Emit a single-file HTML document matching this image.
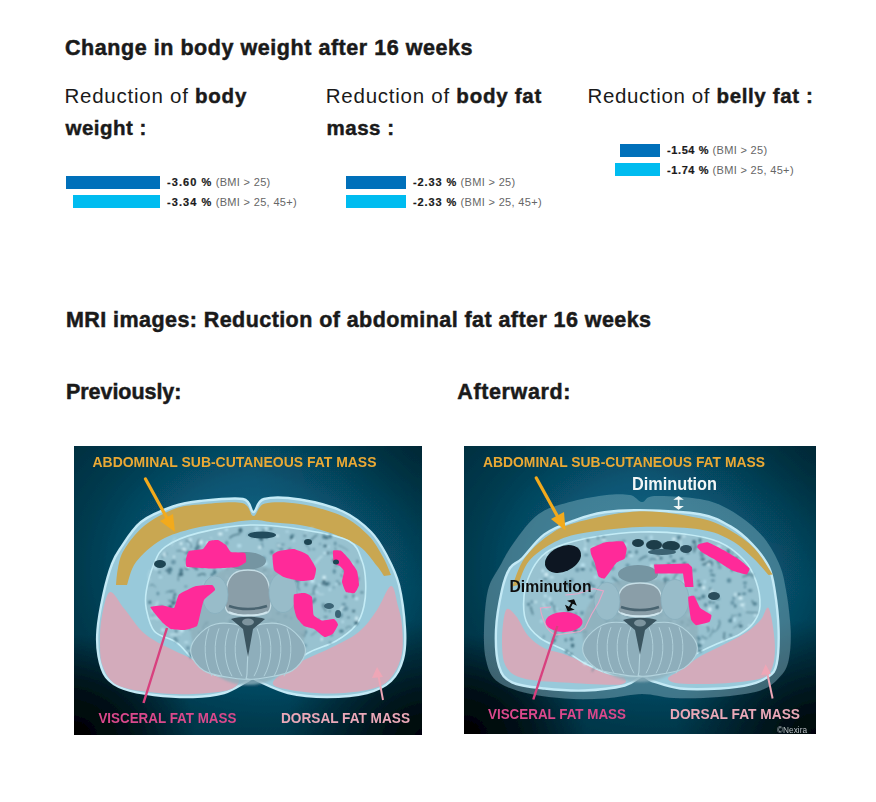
<!DOCTYPE html>
<html><head><meta charset="utf-8">
<style>
html,body{margin:0;padding:0;background:#fff;}
body{width:876px;height:802px;position:relative;overflow:hidden;font-family:"Liberation Sans",sans-serif;color:#1a1a1a;}
.t{position:absolute;white-space:nowrap;line-height:1;}
.h{font-weight:bold;font-size:21.5px;-webkit-text-stroke:0.5px #1a1a1a;}
.sub{font-size:20.5px;}
.sub b{font-weight:bold;-webkit-text-stroke:0.45px #1a1a1a;}
.bar{position:absolute;height:13px;}
.d{background:#0070ba;}
.l{background:#00bcf0;}
.v{position:absolute;font-size:11px;letter-spacing:0.33px;white-space:nowrap;line-height:1;color:#666;}
.v b{color:#1a1a1a;font-weight:bold;-webkit-text-stroke:0.2px #1a1a1a;letter-spacing:1.05px;}
.img{position:absolute;overflow:hidden;}
</style></head><body>
<div class="t h" id="h1" style="left:65px;top:37.7px;letter-spacing:0.55px;">Change in body weight after 16 weeks</div>

<div class="t sub" id="s1a" style="left:64.5px;top:85.6px;letter-spacing:0.75px;">Reduction of <b>body</b></div>
<div class="t sub" id="s1b" style="left:65.5px;top:117.6px;letter-spacing:0.5px;"><b>weight :</b></div>
<div class="t sub" id="s2a" style="left:325.8px;top:85.6px;letter-spacing:0.75px;">Reduction of <b>body fat</b></div>
<div class="t sub" id="s2b" style="left:326.5px;top:117.6px;letter-spacing:0.5px;"><b>mass :</b></div>
<div class="t sub" id="s3a" style="left:587.5px;top:85.6px;letter-spacing:0.63px;">Reduction of <b>belly fat :</b></div>

<div class="bar d" style="left:66px;top:175.5px;width:94px;"></div>
<div class="bar l" style="left:73px;top:195px;width:87px;"></div>
<div class="v" style="left:167px;top:177px;"><b>-3.60 %</b> (BMI &gt; 25)</div>
<div class="v" style="left:167px;top:197px;"><b>-3.34 %</b> (BMI &gt; 25, 45+)</div>

<div class="bar d" style="left:346px;top:175.5px;width:60px;"></div>
<div class="bar l" style="left:346px;top:195px;width:60px;"></div>
<div class="v" style="left:413px;top:177px;"><b style="letter-spacing:0.9px">-2.33 %</b> (BMI &gt; 25)</div>
<div class="v" style="left:413px;top:197px;"><b style="letter-spacing:0.9px">-2.33 %</b> (BMI &gt; 25, 45+)</div>

<div class="bar d" style="left:620px;top:143.5px;width:40px;"></div>
<div class="bar l" style="left:615px;top:163.3px;width:45px;"></div>
<div class="v" style="left:667px;top:145px;"><b style="letter-spacing:0.6px">-1.54 %</b> (BMI &gt; 25)</div>
<div class="v" style="left:667px;top:165px;"><b style="letter-spacing:0.6px">-1.74 %</b> (BMI &gt; 25, 45+)</div>

<div class="t h" id="h2" style="left:66px;top:309.8px;letter-spacing:0.43px;">MRI images: Reduction of abdominal fat after 16 weeks</div>
<div class="t h" id="p1" style="left:66px;top:381.7px;letter-spacing:-0.05px;">Previously:</div>
<div class="t h" id="p2" style="left:457.3px;top:381.7px;letter-spacing:0.62px;">Afterward:</div>

<div class="img" style="left:74px;top:446px;width:348px;height:289px;">
<svg width="348" height="289" viewBox="0 0 348 289">
<defs>
<radialGradient id="bg1" cx="0.55" cy="0.42" r="0.75">
<stop offset="0" stop-color="#0c6c8a"/>
<stop offset="0.4" stop-color="#085674"/>
<stop offset="0.7" stop-color="#043c50"/>
<stop offset="1" stop-color="#022a3a"/>
</radialGradient>
<radialGradient id="cbl1" cx="0" cy="1" r="0.35">
<stop offset="0" stop-color="#000" stop-opacity="1"/>
<stop offset="0.5" stop-color="#000" stop-opacity="0.6"/>
<stop offset="1" stop-color="#000" stop-opacity="0"/>
</radialGradient>
<radialGradient id="cbr1" cx="1" cy="1" r="0.4">
<stop offset="0" stop-color="#000" stop-opacity="0.9"/>
<stop offset="0.5" stop-color="#000" stop-opacity="0.45"/>
<stop offset="1" stop-color="#000" stop-opacity="0"/>
</radialGradient>
<radialGradient id="ctr1" cx="1" cy="0" r="0.5">
<stop offset="0" stop-color="#000" stop-opacity="0.25"/>
<stop offset="1" stop-color="#000" stop-opacity="0"/>
</radialGradient>
<filter id="b1a" x="-10%" y="-10%" width="120%" height="120%"><feGaussianBlur stdDeviation="0.7"/></filter>
<filter id="b1b" x="-10%" y="-10%" width="120%" height="120%"><feGaussianBlur stdDeviation="0.45"/></filter>
<filter id="b1c" x="-10%" y="-10%" width="120%" height="120%"><feGaussianBlur stdDeviation="0.9"/></filter>
<filter id="gb1" x="0" y="0" width="100%" height="100%"><feGaussianBlur stdDeviation="0.45" edgeMode="duplicate"/></filter>
</defs>
<g filter="url(#gb1)">
<rect width="348" height="289" fill="url(#bg1)"/>
<rect width="348" height="289" fill="url(#cbl1)"/>
<rect width="348" height="289" fill="url(#cbr1)"/>
<rect width="348" height="289" fill="url(#ctr1)"/>
<g filter="url(#b1a)">
<path d="M179.5,66.0 C183.0,66.0 182.2,55.1 190.0,53.0 C197.8,50.9 212.8,51.4 226.0,53.5 C239.2,55.6 257.2,60.1 269.0,65.5 C280.8,70.9 289.7,78.6 297.0,86.0 C304.3,93.4 308.3,101.2 313.0,110.0 C317.7,118.8 322.0,126.8 325.0,139.0 C328.0,151.2 330.3,170.7 331.0,183.0 C331.7,195.3 331.3,204.3 329.0,213.0 C326.7,221.7 323.0,229.3 317.0,235.0 C311.0,240.7 303.7,244.3 293.0,247.0 C282.3,249.7 266.2,251.0 253.0,251.0 C239.8,251.0 225.5,249.7 214.0,247.0 C202.5,244.3 189.8,237.5 184.0,235.0 C178.2,232.5 181.5,231.8 179.5,232.0 C177.5,232.2 176.9,233.5 172.0,236.0 C167.1,238.5 158.8,244.5 150.0,247.0 C141.2,249.5 130.7,250.7 119.0,251.0 C107.3,251.3 91.5,250.3 80.0,249.0 C68.5,247.7 58.0,246.0 50.0,243.0 C42.0,240.0 36.2,236.5 32.0,231.0 C27.8,225.5 25.9,217.8 24.5,210.0 C23.1,202.2 22.7,194.3 23.5,184.0 C24.3,173.7 27.1,159.0 29.5,148.0 C31.9,137.0 35.2,125.5 38.0,118.0 C40.8,110.5 41.2,110.0 46.0,103.0 C50.8,96.0 58.2,83.1 67.0,76.0 C75.8,68.9 89.2,64.0 99.0,60.5 C108.8,57.0 114.3,56.2 126.0,55.0 C137.7,53.8 160.1,51.2 169.0,53.0 C177.9,54.8 176.0,66.0 179.5,66.0 Z" fill="#98c9da" stroke="#c4eaf6" stroke-width="2.4"/>
<path d="M42.0,139.0 C42.3,136.2 42.7,127.8 44.0,122.0 C45.3,116.2 45.7,111.0 50.0,104.0 C54.3,97.0 61.7,86.8 70.0,80.0 C78.3,73.2 90.7,66.6 100.0,63.0 C109.3,59.4 114.7,59.5 126.0,58.5 C137.3,57.5 159.1,55.1 168.0,57.0 C176.9,58.9 175.7,69.9 179.5,70.0 C183.3,70.1 183.2,59.5 191.0,57.5 C198.8,55.5 213.2,55.9 226.0,58.0 C238.8,60.1 256.7,64.8 268.0,70.0 C279.3,75.2 287.2,82.2 294.0,89.0 C300.8,95.8 305.2,104.3 309.0,111.0 C312.8,117.7 315.7,126.0 317.0,129.0 L310.0,130.0 C308.8,128.3 307.2,125.0 303.0,120.0 C298.8,115.0 293.2,105.7 285.0,100.0 C276.8,94.3 263.3,89.5 253.5,86.0 C243.7,82.5 234.9,80.6 226.0,79.0 C217.1,77.4 207.8,77.3 200.0,76.5 C192.2,75.7 187.3,73.8 179.0,74.0 C170.7,74.2 160.0,76.1 150.0,77.5 C140.0,78.9 129.5,79.8 119.0,82.5 C108.5,85.2 96.5,88.4 87.0,94.0 C77.5,99.6 67.7,108.5 62.0,116.0 C56.3,123.5 54.5,135.2 53.0,139.0 Z" fill="#c9a751"/>
<path d="M36.0,146.0 C39.8,144.8 44.7,156.1 50.5,163.0 C56.3,169.9 62.5,180.8 70.7,187.7 C79.0,194.6 88.6,198.9 100.0,204.5 C111.4,210.1 128.3,216.9 139.0,221.5 C149.7,226.1 161.2,228.3 164.0,232.0 C166.8,235.7 163.5,240.8 156.0,243.5 C148.5,246.2 131.8,247.5 119.0,248.0 C106.2,248.5 92.2,248.0 79.5,246.5 C66.8,245.0 51.5,243.5 43.0,239.0 C34.5,234.5 31.3,226.8 28.5,219.5 C25.7,212.2 26.1,203.2 26.0,195.0 C25.9,186.8 26.3,178.2 28.0,170.0 C29.7,161.8 32.2,147.2 36.0,146.0 Z" fill="#d3abbb"/>
<path d="M317.0,140.0 C320.5,139.3 322.2,153.3 324.0,160.0 C325.8,166.7 327.4,171.7 328.0,180.0 C328.6,188.3 329.7,200.6 327.5,209.6 C325.3,218.6 320.8,228.3 315.0,234.0 C309.2,239.7 303.2,241.8 293.0,244.0 C282.8,246.2 266.7,247.6 253.5,247.5 C240.3,247.4 222.8,245.4 213.7,243.5 C204.6,241.6 197.3,240.3 199.0,236.0 C200.7,231.7 214.0,223.2 223.7,217.5 C233.4,211.8 247.2,206.9 257.4,201.6 C267.6,196.3 277.4,192.0 285.0,185.7 C292.6,179.4 297.7,171.5 303.0,163.9 C308.3,156.3 313.5,140.7 317.0,140.0 Z" fill="#d3abbb"/>
<path d="M72.4,144.4 C73.7,136.8 76.8,125.3 80.0,118.0 C83.2,110.7 84.2,105.8 91.6,100.6 C99.0,95.4 110.3,90.5 124.5,86.9 C138.7,83.3 158.8,79.5 176.5,79.0 C194.2,78.5 214.6,81.3 231.0,84.0 C247.4,86.7 265.5,89.8 275.0,95.0 C284.5,100.2 285.2,108.2 288.0,115.0 C290.8,121.8 291.3,128.5 291.6,136.0 C291.9,143.5 291.6,152.8 290.0,160.0 C288.4,167.2 286.7,173.2 282.0,179.0 C277.3,184.8 269.7,190.5 262.0,195.0 C254.3,199.5 244.3,201.8 236.0,206.0 C227.7,210.2 219.7,216.0 212.0,220.0 C204.3,224.0 196.4,228.0 190.0,230.0 C183.6,232.0 182.0,232.2 173.8,232.0 C165.6,231.8 150.1,232.2 141.0,229.0 C131.9,225.8 125.4,218.4 119.0,213.0 C112.6,207.6 109.0,201.1 102.6,196.5 C96.2,191.9 85.6,191.0 80.6,185.5 C75.6,180.0 73.8,170.4 72.4,163.6 C71.0,156.8 71.1,152.0 72.4,144.4 Z" fill="#98c2d0" stroke="#c4ecf6" stroke-width="1.6"/>
</g>
<g filter="url(#b1c)">
<ellipse cx="171.6" cy="164.6" rx="1.5" ry="2.2" fill="#6896a8"/>
<ellipse cx="114.0" cy="202.0" rx="1.8" ry="2.1" fill="#6896a8"/>
<ellipse cx="93.0" cy="125.4" rx="1.7" ry="2.2" fill="#4a7a8c"/>
<ellipse cx="211.5" cy="170.1" rx="2.3" ry="1.8" fill="#6896a8"/>
<ellipse cx="207.3" cy="103.1" rx="2.1" ry="0.9" fill="#4a7a8c"/>
<ellipse cx="203.8" cy="198.1" rx="1.5" ry="2.1" fill="#3d6a7c"/>
<ellipse cx="186.2" cy="177.0" rx="0.8" ry="0.9" fill="#6896a8"/>
<ellipse cx="215.9" cy="141.2" rx="1.9" ry="1.3" fill="#4a7a8c"/>
<ellipse cx="122.7" cy="123.2" rx="1.7" ry="1.0" fill="#4a7a8c"/>
<ellipse cx="96.0" cy="123.5" rx="2.3" ry="2.2" fill="#4a7a8c"/>
<ellipse cx="271.9" cy="150.9" rx="1.5" ry="1.7" fill="#6896a8"/>
<ellipse cx="115.9" cy="182.3" rx="0.9" ry="1.3" fill="#3d6a7c"/>
<ellipse cx="98.3" cy="116.7" rx="0.8" ry="1.5" fill="#4a7a8c"/>
<ellipse cx="179.1" cy="183.4" rx="1.5" ry="1.1" fill="#5a8a9c"/>
<ellipse cx="232.8" cy="99.0" rx="1.0" ry="1.5" fill="#6896a8"/>
<ellipse cx="119.1" cy="120.3" rx="2.4" ry="0.8" fill="#3d6a7c"/>
<ellipse cx="204.4" cy="167.3" rx="2.4" ry="1.1" fill="#4a7a8c"/>
<ellipse cx="129.0" cy="197.2" rx="2.1" ry="1.4" fill="#3d6a7c"/>
<ellipse cx="88.7" cy="110.9" rx="0.8" ry="1.4" fill="#5a8a9c"/>
<ellipse cx="208.8" cy="98.5" rx="2.1" ry="1.0" fill="#6896a8"/>
<ellipse cx="157.0" cy="175.0" rx="2.3" ry="2.1" fill="#3d6a7c"/>
<ellipse cx="127.1" cy="108.0" rx="1.9" ry="1.4" fill="#5a8a9c"/>
<ellipse cx="178.2" cy="91.0" rx="1.0" ry="0.9" fill="#4a7a8c"/>
<ellipse cx="283.4" cy="115.5" rx="1.2" ry="2.1" fill="#6896a8"/>
<ellipse cx="203.1" cy="123.9" rx="2.3" ry="2.4" fill="#5a8a9c"/>
<ellipse cx="100.1" cy="152.3" rx="1.2" ry="2.3" fill="#4a7a8c"/>
<ellipse cx="131.4" cy="147.2" rx="0.9" ry="1.3" fill="#4a7a8c"/>
<ellipse cx="188.8" cy="227.9" rx="1.4" ry="2.2" fill="#4a7a8c"/>
<ellipse cx="223.9" cy="168.4" rx="1.7" ry="2.3" fill="#5a8a9c"/>
<ellipse cx="176.5" cy="133.7" rx="2.3" ry="0.8" fill="#3d6a7c"/>
<ellipse cx="211.9" cy="152.8" rx="1.3" ry="2.4" fill="#3d6a7c"/>
<ellipse cx="88.9" cy="162.6" rx="2.2" ry="2.0" fill="#4a7a8c"/>
<ellipse cx="226.6" cy="200.4" rx="1.4" ry="1.9" fill="#3d6a7c"/>
<ellipse cx="163.8" cy="200.0" rx="1.7" ry="1.8" fill="#6896a8"/>
<ellipse cx="156.2" cy="168.1" rx="0.9" ry="1.8" fill="#4a7a8c"/>
<ellipse cx="232.0" cy="138.4" rx="1.5" ry="2.1" fill="#6896a8"/>
<ellipse cx="78.9" cy="171.0" rx="0.8" ry="2.3" fill="#6896a8"/>
<ellipse cx="217.1" cy="153.4" rx="1.4" ry="1.0" fill="#4a7a8c"/>
<ellipse cx="206.5" cy="158.3" rx="1.9" ry="1.5" fill="#3d6a7c"/>
<ellipse cx="267.9" cy="129.0" rx="1.1" ry="1.5" fill="#3d6a7c"/>
<ellipse cx="265.4" cy="137.8" rx="1.1" ry="1.0" fill="#3d6a7c"/>
<ellipse cx="149.3" cy="216.0" rx="1.9" ry="2.3" fill="#4a7a8c"/>
<ellipse cx="133.1" cy="104.9" rx="1.6" ry="2.3" fill="#6896a8"/>
<ellipse cx="254.5" cy="137.5" rx="1.9" ry="1.9" fill="#6896a8"/>
<ellipse cx="256.9" cy="174.6" rx="0.9" ry="0.9" fill="#3d6a7c"/>
<ellipse cx="227.7" cy="166.3" rx="1.8" ry="1.7" fill="#3d6a7c"/>
<ellipse cx="212.9" cy="141.0" rx="0.8" ry="2.1" fill="#5a8a9c"/>
<ellipse cx="124.4" cy="100.6" rx="2.4" ry="1.0" fill="#4a7a8c"/>
<ellipse cx="96.3" cy="160.9" rx="2.3" ry="1.9" fill="#3d6a7c"/>
<ellipse cx="116.1" cy="151.7" rx="1.9" ry="2.0" fill="#5a8a9c"/>
<ellipse cx="189.6" cy="84.5" rx="1.2" ry="1.4" fill="#5a8a9c"/>
<ellipse cx="225.3" cy="158.6" rx="1.4" ry="2.1" fill="#5a8a9c"/>
<ellipse cx="100.9" cy="148.4" rx="1.4" ry="1.7" fill="#4a7a8c"/>
<ellipse cx="279.4" cy="149.9" rx="1.0" ry="2.2" fill="#5a8a9c"/>
<ellipse cx="99.5" cy="116.1" rx="2.4" ry="2.4" fill="#6896a8"/>
<ellipse cx="190.1" cy="200.0" rx="1.2" ry="1.9" fill="#3d6a7c"/>
<ellipse cx="75.8" cy="156.2" rx="1.5" ry="1.7" fill="#4a7a8c"/>
<ellipse cx="240.8" cy="153.6" rx="1.1" ry="2.2" fill="#4a7a8c"/>
<ellipse cx="166.4" cy="84.4" rx="1.9" ry="2.3" fill="#3d6a7c"/>
<ellipse cx="269.8" cy="158.3" rx="2.3" ry="1.6" fill="#6896a8"/>
<ellipse cx="120.9" cy="159.6" rx="2.1" ry="1.7" fill="#3d6a7c"/>
<ellipse cx="108.4" cy="157.7" rx="1.3" ry="1.4" fill="#3d6a7c"/>
<ellipse cx="118.0" cy="209.2" rx="1.7" ry="1.1" fill="#3d6a7c"/>
<ellipse cx="189.9" cy="156.0" rx="0.8" ry="2.4" fill="#6896a8"/>
<ellipse cx="185.5" cy="140.3" rx="1.6" ry="1.9" fill="#4a7a8c"/>
<ellipse cx="86.8" cy="161.4" rx="2.3" ry="2.1" fill="#6896a8"/>
<ellipse cx="161.0" cy="116.7" rx="1.0" ry="1.5" fill="#6896a8"/>
<ellipse cx="176.9" cy="127.5" rx="1.5" ry="0.8" fill="#5a8a9c"/>
<ellipse cx="129.4" cy="186.4" rx="0.9" ry="1.0" fill="#4a7a8c"/>
<ellipse cx="231.0" cy="116.4" rx="1.0" ry="2.0" fill="#6896a8"/>
<ellipse cx="99.3" cy="157.1" rx="1.9" ry="1.9" fill="#3d6a7c"/>
<ellipse cx="211.2" cy="205.3" rx="1.7" ry="2.2" fill="#5a8a9c"/>
<ellipse cx="189.5" cy="112.4" rx="2.2" ry="1.8" fill="#5a8a9c"/>
<ellipse cx="260.2" cy="114.6" rx="2.2" ry="1.3" fill="#3d6a7c"/>
<ellipse cx="141.4" cy="220.2" rx="2.0" ry="1.1" fill="#5a8a9c"/>
<ellipse cx="157.4" cy="145.5" rx="1.7" ry="1.9" fill="#6896a8"/>
<ellipse cx="116.4" cy="175.1" rx="1.0" ry="1.7" fill="#4a7a8c"/>
<ellipse cx="150.8" cy="204.6" rx="1.0" ry="1.6" fill="#3d6a7c"/>
<ellipse cx="238.6" cy="155.9" rx="2.1" ry="1.6" fill="#5a8a9c"/>
<ellipse cx="206.8" cy="217.5" rx="1.0" ry="1.1" fill="#6896a8"/>
<ellipse cx="117.1" cy="207.6" rx="2.3" ry="1.0" fill="#3d6a7c"/>
<ellipse cx="173.7" cy="196.0" rx="1.4" ry="1.5" fill="#3d6a7c"/>
<ellipse cx="150.1" cy="111.1" rx="0.8" ry="1.9" fill="#3d6a7c"/>
<ellipse cx="257.5" cy="106.7" rx="1.4" ry="1.4" fill="#6896a8"/>
<ellipse cx="274.5" cy="171.5" rx="1.6" ry="0.8" fill="#4a7a8c"/>
<ellipse cx="226.9" cy="210.7" rx="1.7" ry="1.1" fill="#6896a8"/>
<ellipse cx="200.5" cy="131.2" rx="1.2" ry="1.0" fill="#3d6a7c"/>
<ellipse cx="235.3" cy="103.5" rx="1.0" ry="1.3" fill="#6896a8"/>
<ellipse cx="190.5" cy="135.6" rx="2.0" ry="1.4" fill="#6896a8"/>
<ellipse cx="230.8" cy="89.8" rx="1.3" ry="1.0" fill="#3d6a7c"/>
<ellipse cx="137.9" cy="112.1" rx="1.7" ry="1.7" fill="#6896a8"/>
<ellipse cx="213.2" cy="186.3" rx="2.4" ry="0.8" fill="#6896a8"/>
<ellipse cx="207.3" cy="192.0" rx="1.5" ry="1.6" fill="#3d6a7c"/>
<ellipse cx="239.3" cy="178.1" rx="1.0" ry="1.2" fill="#4a7a8c"/>
<ellipse cx="270.9" cy="163.2" rx="2.3" ry="1.7" fill="#6896a8"/>
<ellipse cx="249.8" cy="90.7" rx="1.4" ry="2.3" fill="#4a7a8c"/>
<ellipse cx="157.0" cy="227.4" rx="1.7" ry="1.8" fill="#6896a8"/>
<ellipse cx="166.6" cy="154.7" rx="1.6" ry="1.8" fill="#3d6a7c"/>
<ellipse cx="152.5" cy="122.7" rx="1.7" ry="1.3" fill="#3d6a7c"/>
<ellipse cx="229.5" cy="124.3" rx="2.0" ry="1.7" fill="#4a7a8c"/>
<ellipse cx="211.2" cy="141.5" rx="0.9" ry="1.3" fill="#6896a8"/>
<ellipse cx="159.6" cy="168.0" rx="0.9" ry="2.2" fill="#3d6a7c"/>
<ellipse cx="166.5" cy="152.1" rx="0.9" ry="1.0" fill="#5a8a9c"/>
<ellipse cx="126.1" cy="187.1" rx="1.8" ry="1.5" fill="#4a7a8c"/>
<ellipse cx="188.2" cy="98.0" rx="1.0" ry="1.5" fill="#6896a8"/>
<ellipse cx="204.2" cy="176.9" rx="1.4" ry="2.0" fill="#6896a8"/>
<ellipse cx="251.1" cy="100.0" rx="2.0" ry="1.2" fill="#3d6a7c"/>
<ellipse cx="244.3" cy="174.6" rx="1.2" ry="1.8" fill="#3d6a7c"/>
<ellipse cx="231.3" cy="186.0" rx="1.8" ry="2.0" fill="#5a8a9c"/>
<ellipse cx="114.0" cy="117.1" rx="2.2" ry="0.9" fill="#5a8a9c"/>
<ellipse cx="85.7" cy="120.5" rx="0.8" ry="0.9" fill="#6896a8"/>
<ellipse cx="121.2" cy="121.6" rx="2.3" ry="1.1" fill="#4a7a8c"/>
<ellipse cx="178.5" cy="133.2" rx="1.3" ry="2.0" fill="#3d6a7c"/>
<ellipse cx="256.2" cy="90.4" rx="1.5" ry="2.1" fill="#4a7a8c"/>
<ellipse cx="256.1" cy="196.6" rx="1.5" ry="1.2" fill="#6896a8"/>
<ellipse cx="249.9" cy="135.4" rx="1.3" ry="2.0" fill="#3d6a7c"/>
<ellipse cx="253.5" cy="107.1" rx="1.7" ry="1.5" fill="#3d6a7c"/>
<ellipse cx="143.5" cy="162.2" rx="1.7" ry="1.6" fill="#6896a8"/>
<ellipse cx="222.6" cy="124.7" rx="0.9" ry="1.1" fill="#4a7a8c"/>
<ellipse cx="217.5" cy="91.5" rx="1.6" ry="2.0" fill="#3d6a7c"/>
<ellipse cx="144.3" cy="213.9" rx="1.4" ry="2.0" fill="#5a8a9c"/>
<ellipse cx="152.7" cy="97.0" rx="1.7" ry="2.3" fill="#6896a8"/>
<ellipse cx="168.4" cy="201.9" rx="1.5" ry="1.2" fill="#3d6a7c"/>
<ellipse cx="185.5" cy="91.9" rx="0.8" ry="1.9" fill="#3d6a7c"/>
<ellipse cx="200.6" cy="200.8" rx="2.1" ry="1.7" fill="#3d6a7c"/>
<ellipse cx="255.7" cy="165.1" rx="0.9" ry="1.5" fill="#5a8a9c"/>
<ellipse cx="107.2" cy="124.3" rx="1.8" ry="2.1" fill="#4a7a8c"/>
<ellipse cx="86.4" cy="162.7" rx="1.3" ry="1.2" fill="#4a7a8c"/>
<ellipse cx="95.5" cy="127.0" rx="1.8" ry="1.0" fill="#4a7a8c"/>
<ellipse cx="235.9" cy="178.3" rx="1.9" ry="1.6" fill="#5a8a9c"/>
<ellipse cx="271.4" cy="130.7" rx="1.4" ry="1.3" fill="#6896a8"/>
<ellipse cx="180.6" cy="161.2" rx="1.9" ry="2.3" fill="#4a7a8c"/>
<ellipse cx="162.4" cy="205.4" rx="2.2" ry="2.1" fill="#3d6a7c"/>
<ellipse cx="282.3" cy="177.0" rx="1.9" ry="2.1" fill="#3d6a7c"/>
<ellipse cx="164.8" cy="143.3" rx="1.2" ry="1.1" fill="#5a8a9c"/>
<ellipse cx="211.6" cy="183.7" rx="1.1" ry="1.5" fill="#3d6a7c"/>
<ellipse cx="85.4" cy="126.2" rx="1.3" ry="1.0" fill="#4a7a8c"/>
<ellipse cx="177.9" cy="201.5" rx="1.0" ry="1.1" fill="#3d6a7c"/>
<ellipse cx="120.0" cy="115.0" rx="1.8" ry="1.2" fill="#6896a8"/>
<ellipse cx="112.9" cy="122.0" rx="2.3" ry="2.3" fill="#5a8a9c"/>
<ellipse cx="193.0" cy="209.6" rx="2.2" ry="2.3" fill="#6896a8"/>
<ellipse cx="147.4" cy="162.7" rx="1.6" ry="1.2" fill="#4a7a8c"/>
<ellipse cx="248.1" cy="137.9" rx="2.1" ry="0.9" fill="#3d6a7c"/>
<ellipse cx="171.0" cy="116.7" rx="1.8" ry="1.1" fill="#6896a8"/>
<ellipse cx="106.8" cy="128.2" rx="2.3" ry="2.1" fill="#3d6a7c"/>
<ellipse cx="101.1" cy="192.5" rx="1.6" ry="0.9" fill="#3d6a7c"/>
<ellipse cx="197.8" cy="106.3" rx="2.1" ry="2.2" fill="#5a8a9c"/>
<ellipse cx="252.6" cy="91.6" rx="1.8" ry="1.6" fill="#3d6a7c"/>
<ellipse cx="267.4" cy="185.1" rx="2.3" ry="1.7" fill="#4a7a8c"/>
<ellipse cx="260.3" cy="125.4" rx="1.5" ry="2.3" fill="#5a8a9c"/>
<ellipse cx="118.1" cy="162.1" rx="1.1" ry="2.1" fill="#6896a8"/>
<ellipse cx="140.7" cy="126.5" rx="1.7" ry="2.4" fill="#4a7a8c"/>
<ellipse cx="218.6" cy="89.3" rx="1.9" ry="1.0" fill="#4a7a8c"/>
<ellipse cx="158.8" cy="149.6" rx="1.8" ry="0.8" fill="#4a7a8c"/>
<ellipse cx="155.1" cy="187.6" rx="1.3" ry="1.0" fill="#5a8a9c"/>
<ellipse cx="257.5" cy="189.0" rx="1.3" ry="1.4" fill="#5a8a9c"/>
<ellipse cx="190.7" cy="124.6" rx="2.0" ry="1.7" fill="#3d6a7c"/>
<ellipse cx="91.5" cy="107.9" rx="2.0" ry="1.3" fill="#6896a8"/>
<ellipse cx="279.6" cy="165.1" rx="1.5" ry="1.4" fill="#3d6a7c"/>
<ellipse cx="94.7" cy="174.1" rx="1.9" ry="1.9" fill="#5a8a9c"/>
<ellipse cx="111.8" cy="140.5" rx="1.7" ry="0.9" fill="#6896a8"/>
<ellipse cx="122.1" cy="103.0" rx="1.5" ry="2.0" fill="#4a7a8c"/>
<ellipse cx="147.3" cy="205.0" rx="1.8" ry="2.0" fill="#5a8a9c"/>
<ellipse cx="252.4" cy="138.0" rx="2.3" ry="1.8" fill="#3d6a7c"/>
<ellipse cx="231.7" cy="172.8" rx="2.4" ry="2.1" fill="#3d6a7c"/>
<ellipse cx="217.1" cy="172.1" rx="1.2" ry="1.1" fill="#4a7a8c"/>
<ellipse cx="139.6" cy="146.5" rx="1.1" ry="1.3" fill="#6896a8"/>
<ellipse cx="136.7" cy="94.7" rx="1.2" ry="1.7" fill="#5a8a9c"/>
<ellipse cx="137.8" cy="114.8" rx="1.7" ry="1.1" fill="#5a8a9c"/>
<ellipse cx="196.8" cy="83.1" rx="2.0" ry="1.0" fill="#5a8a9c"/>
<ellipse cx="177.2" cy="142.9" rx="1.3" ry="2.3" fill="#3d6a7c"/>
<ellipse cx="151.6" cy="149.8" rx="1.5" ry="2.0" fill="#4a7a8c"/>
<ellipse cx="124.7" cy="166.1" rx="1.7" ry="1.2" fill="#4a7a8c"/>
<ellipse cx="251.6" cy="171.0" rx="2.3" ry="0.8" fill="#4a7a8c"/>
<ellipse cx="222.6" cy="134.6" rx="2.1" ry="1.1" fill="#3d6a7c"/>
<ellipse cx="192.5" cy="90.7" rx="1.4" ry="2.1" fill="#4a7a8c"/>
<ellipse cx="102.7" cy="194.7" rx="1.8" ry="1.8" fill="#6896a8"/>
<ellipse cx="239.7" cy="103.3" rx="1.5" ry="1.0" fill="#6896a8"/>
<ellipse cx="157.1" cy="166.1" rx="1.3" ry="1.0" fill="#5a8a9c"/>
<ellipse cx="230.6" cy="199.5" rx="2.3" ry="1.8" fill="#6896a8"/>
<ellipse cx="175.4" cy="141.9" rx="2.0" ry="1.6" fill="#6896a8"/>
<ellipse cx="259.8" cy="141.6" rx="1.0" ry="1.0" fill="#6896a8"/>
<ellipse cx="278.2" cy="129.5" rx="1.5" ry="0.8" fill="#6896a8"/>
<ellipse cx="271.3" cy="124.3" rx="2.0" ry="1.8" fill="#6896a8"/>
<ellipse cx="237.2" cy="125.6" rx="1.2" ry="2.2" fill="#4a7a8c"/>
<ellipse cx="125.5" cy="212.6" rx="1.6" ry="1.0" fill="#4a7a8c"/>
<ellipse cx="271.9" cy="162.4" rx="2.3" ry="2.2" fill="#6896a8"/>
<ellipse cx="263.4" cy="135.4" rx="1.7" ry="1.1" fill="#6896a8"/>
<ellipse cx="214.8" cy="143.5" rx="2.2" ry="1.0" fill="#4a7a8c"/>
<ellipse cx="246.1" cy="97.9" rx="0.8" ry="1.2" fill="#6896a8"/>
<ellipse cx="138.0" cy="128.7" rx="1.5" ry="1.5" fill="#4a7a8c"/>
<ellipse cx="188.7" cy="100.6" rx="0.9" ry="0.8" fill="#5a8a9c"/>
<ellipse cx="269.4" cy="126.1" rx="1.0" ry="2.0" fill="#6896a8"/>
<ellipse cx="116.8" cy="210.4" rx="1.1" ry="2.1" fill="#4a7a8c"/>
<ellipse cx="150.0" cy="151.3" rx="1.8" ry="1.9" fill="#5a8a9c"/>
<ellipse cx="195.1" cy="160.6" rx="1.1" ry="2.2" fill="#5a8a9c"/>
<ellipse cx="231.5" cy="126.9" rx="2.2" ry="1.9" fill="#3d6a7c"/>
<ellipse cx="102.0" cy="185.5" rx="1.5" ry="1.1" fill="#6896a8"/>
<ellipse cx="261.2" cy="97.5" rx="1.2" ry="2.0" fill="#5a8a9c"/>
<ellipse cx="182.3" cy="124.2" rx="1.4" ry="1.9" fill="#3d6a7c"/>
<ellipse cx="266.3" cy="169.3" rx="2.4" ry="2.2" fill="#5a8a9c"/>
<ellipse cx="112.0" cy="113.6" rx="1.8" ry="0.9" fill="#5a8a9c"/>
<ellipse cx="287.9" cy="146.4" rx="1.6" ry="0.9" fill="#4a7a8c"/>
<ellipse cx="203.9" cy="122.5" rx="1.5" ry="1.7" fill="#3d6a7c"/>
<ellipse cx="113.9" cy="106.4" rx="1.1" ry="2.2" fill="#4a7a8c"/>
<ellipse cx="173.6" cy="193.8" rx="0.8" ry="2.2" fill="#6896a8"/>
<ellipse cx="142.7" cy="153.0" rx="1.6" ry="1.6" fill="#4a7a8c"/>
<ellipse cx="257.7" cy="183.7" rx="1.8" ry="2.0" fill="#5a8a9c"/>
<ellipse cx="97.0" cy="145.6" rx="1.7" ry="1.2" fill="#6896a8"/>
<ellipse cx="229.4" cy="189.4" rx="1.6" ry="1.2" fill="#3d6a7c"/>
<ellipse cx="199.6" cy="155.3" rx="1.1" ry="2.4" fill="#4a7a8c"/>
<ellipse cx="83.9" cy="147.6" rx="1.3" ry="1.8" fill="#5a8a9c"/>
<ellipse cx="205.8" cy="202.3" rx="2.0" ry="2.2" fill="#6896a8"/>
<ellipse cx="111.5" cy="176.9" rx="1.8" ry="0.9" fill="#5a8a9c"/>
<ellipse cx="165.6" cy="185.4" rx="2.0" ry="1.6" fill="#3d6a7c"/>
<ellipse cx="214.9" cy="157.1" rx="1.2" ry="1.1" fill="#6896a8"/>
<ellipse cx="223.8" cy="206.1" rx="0.9" ry="1.5" fill="#6896a8"/>
<ellipse cx="152.3" cy="112.1" rx="1.0" ry="2.0" fill="#4a7a8c"/>
<ellipse cx="204.1" cy="99.6" rx="1.6" ry="2.4" fill="#6896a8"/>
<ellipse cx="187.6" cy="93.0" rx="1.6" ry="2.3" fill="#3d6a7c"/>
<ellipse cx="176.4" cy="179.6" rx="1.4" ry="1.4" fill="#d4f0f8"/>
<ellipse cx="213.4" cy="149.4" rx="1.2" ry="0.8" fill="#d4f0f8"/>
<ellipse cx="153.0" cy="131.0" rx="0.9" ry="2.1" fill="#c4e8f4"/>
<ellipse cx="88.8" cy="184.1" rx="1.9" ry="2.1" fill="#b8e0ee"/>
<ellipse cx="252.1" cy="180.3" rx="0.9" ry="2.4" fill="#c4e8f4"/>
<ellipse cx="165.2" cy="99.7" rx="2.2" ry="1.7" fill="#b8e0ee"/>
<ellipse cx="194.1" cy="156.6" rx="1.4" ry="1.5" fill="#c4e8f4"/>
<ellipse cx="203.0" cy="151.9" rx="1.7" ry="1.8" fill="#b8e0ee"/>
<ellipse cx="90.5" cy="108.4" rx="1.2" ry="2.3" fill="#d4f0f8"/>
<ellipse cx="262.3" cy="138.0" rx="1.0" ry="1.2" fill="#b8e0ee"/>
<ellipse cx="152.0" cy="157.2" rx="1.1" ry="1.4" fill="#d4f0f8"/>
<ellipse cx="205.5" cy="194.3" rx="1.1" ry="1.9" fill="#c4e8f4"/>
<ellipse cx="80.5" cy="121.3" rx="1.8" ry="2.0" fill="#b8e0ee"/>
<ellipse cx="185.1" cy="135.4" rx="1.3" ry="1.6" fill="#b8e0ee"/>
<ellipse cx="282.6" cy="152.6" rx="1.5" ry="1.7" fill="#c4e8f4"/>
<ellipse cx="112.3" cy="196.3" rx="2.3" ry="0.8" fill="#c4e8f4"/>
<ellipse cx="131.2" cy="196.9" rx="1.1" ry="2.1" fill="#b8e0ee"/>
<ellipse cx="182.3" cy="116.9" rx="2.4" ry="2.4" fill="#c4e8f4"/>
<ellipse cx="182.8" cy="82.7" rx="2.2" ry="1.9" fill="#b8e0ee"/>
<ellipse cx="133.7" cy="97.1" rx="1.6" ry="1.6" fill="#d4f0f8"/>
<ellipse cx="149.9" cy="183.7" rx="2.2" ry="1.1" fill="#b8e0ee"/>
<ellipse cx="136.3" cy="212.6" rx="1.3" ry="2.2" fill="#b8e0ee"/>
<ellipse cx="212.7" cy="147.1" rx="2.0" ry="1.6" fill="#c4e8f4"/>
<ellipse cx="78.4" cy="164.4" rx="1.5" ry="1.2" fill="#b8e0ee"/>
<ellipse cx="167.8" cy="228.9" rx="1.7" ry="2.0" fill="#d4f0f8"/>
<ellipse cx="277.7" cy="118.5" rx="1.5" ry="1.7" fill="#c4e8f4"/>
<ellipse cx="199.6" cy="132.2" rx="1.8" ry="1.4" fill="#b8e0ee"/>
<ellipse cx="107.7" cy="184.4" rx="2.2" ry="2.1" fill="#c4e8f4"/>
<ellipse cx="189.7" cy="199.7" rx="2.1" ry="1.9" fill="#b8e0ee"/>
<ellipse cx="113.8" cy="120.4" rx="1.9" ry="1.6" fill="#d4f0f8"/>
<ellipse cx="206.4" cy="111.4" rx="1.9" ry="1.4" fill="#d4f0f8"/>
<ellipse cx="126.3" cy="141.3" rx="0.9" ry="1.3" fill="#b8e0ee"/>
<ellipse cx="222.9" cy="189.3" rx="1.9" ry="2.0" fill="#b8e0ee"/>
<ellipse cx="152.5" cy="83.6" rx="1.8" ry="1.6" fill="#b8e0ee"/>
<ellipse cx="84.8" cy="169.9" rx="1.2" ry="1.3" fill="#b8e0ee"/>
<ellipse cx="151.4" cy="121.8" rx="1.9" ry="1.3" fill="#c4e8f4"/>
<ellipse cx="185.6" cy="101.4" rx="1.3" ry="1.6" fill="#d4f0f8"/>
<ellipse cx="157.6" cy="155.6" rx="1.2" ry="1.5" fill="#d4f0f8"/>
<ellipse cx="122.3" cy="161.3" rx="1.6" ry="1.5" fill="#b8e0ee"/>
<ellipse cx="197.4" cy="126.7" rx="0.8" ry="2.0" fill="#d4f0f8"/>
<ellipse cx="268.7" cy="175.8" rx="1.0" ry="1.2" fill="#c4e8f4"/>
<ellipse cx="191.7" cy="117.5" rx="1.5" ry="1.4" fill="#c4e8f4"/>
<ellipse cx="161.9" cy="175.0" rx="1.4" ry="2.2" fill="#b8e0ee"/>
<ellipse cx="269.1" cy="128.1" rx="1.2" ry="0.9" fill="#c4e8f4"/>
<ellipse cx="216.7" cy="200.8" rx="1.5" ry="1.8" fill="#b8e0ee"/>
<ellipse cx="130.1" cy="141.3" rx="1.6" ry="2.3" fill="#b8e0ee"/>
<ellipse cx="251.0" cy="107.0" rx="2.1" ry="1.0" fill="#c4e8f4"/>
<ellipse cx="131.1" cy="214.8" rx="2.2" ry="2.1" fill="#d4f0f8"/>
<ellipse cx="151.0" cy="191.4" rx="2.0" ry="2.2" fill="#b8e0ee"/>
<ellipse cx="140.6" cy="212.5" rx="2.2" ry="0.8" fill="#d4f0f8"/>
<ellipse cx="109.9" cy="104.0" rx="2.1" ry="2.3" fill="#d4f0f8"/>
<ellipse cx="192.1" cy="82.3" rx="1.4" ry="1.6" fill="#c4e8f4"/>
<ellipse cx="116.3" cy="94.0" rx="1.8" ry="2.1" fill="#c4e8f4"/>
<ellipse cx="183.2" cy="176.2" rx="1.4" ry="2.1" fill="#b8e0ee"/>
<ellipse cx="238.4" cy="135.1" rx="2.3" ry="1.9" fill="#c4e8f4"/>
<ellipse cx="166.0" cy="141.1" rx="1.4" ry="0.9" fill="#d4f0f8"/>
<ellipse cx="273.4" cy="132.3" rx="1.0" ry="0.9" fill="#c4e8f4"/>
<ellipse cx="127.1" cy="96.3" rx="1.7" ry="2.3" fill="#d4f0f8"/>
<ellipse cx="231.5" cy="178.5" rx="1.7" ry="1.7" fill="#c4e8f4"/>
<ellipse cx="248.5" cy="175.3" rx="2.0" ry="1.5" fill="#b8e0ee"/>
<ellipse cx="191.4" cy="127.3" rx="1.4" ry="1.8" fill="#c4e8f4"/>
<ellipse cx="146.3" cy="88.0" rx="2.3" ry="1.4" fill="#d4f0f8"/>
<ellipse cx="137.8" cy="220.3" rx="1.0" ry="1.2" fill="#d4f0f8"/>
<ellipse cx="115.7" cy="97.9" rx="2.0" ry="2.1" fill="#b8e0ee"/>
<ellipse cx="238.4" cy="131.0" rx="2.0" ry="2.2" fill="#b8e0ee"/>
<ellipse cx="250.2" cy="131.4" rx="1.8" ry="1.8" fill="#d4f0f8"/>
<ellipse cx="86.5" cy="131.2" rx="1.8" ry="1.0" fill="#b8e0ee"/>
<ellipse cx="191.0" cy="224.7" rx="1.2" ry="1.3" fill="#d4f0f8"/>
<ellipse cx="201.0" cy="154.3" rx="1.7" ry="1.8" fill="#b8e0ee"/>
<ellipse cx="198.9" cy="136.9" rx="1.4" ry="2.3" fill="#b8e0ee"/>
<ellipse cx="203.5" cy="89.9" rx="1.4" ry="1.1" fill="#d4f0f8"/>
<ellipse cx="143.1" cy="135.2" rx="2.2" ry="1.0" fill="#b8e0ee"/>
<ellipse cx="213.2" cy="85.6" rx="1.8" ry="0.9" fill="#b8e0ee"/>
<ellipse cx="219.6" cy="94.5" rx="1.1" ry="1.6" fill="#b8e0ee"/>
<ellipse cx="92.3" cy="126.6" rx="1.2" ry="0.9" fill="#b8e0ee"/>
<ellipse cx="223.2" cy="107.7" rx="1.8" ry="1.8" fill="#b8e0ee"/>
<ellipse cx="201.7" cy="152.3" rx="1.5" ry="2.3" fill="#b8e0ee"/>
<ellipse cx="158.3" cy="150.2" rx="1.2" ry="2.2" fill="#b8e0ee"/>
<ellipse cx="115.5" cy="169.3" rx="1.6" ry="1.9" fill="#d4f0f8"/>
<ellipse cx="229.3" cy="208.9" rx="1.4" ry="1.3" fill="#b8e0ee"/>
<ellipse cx="245.5" cy="138.7" rx="2.2" ry="1.0" fill="#b8e0ee"/>
<ellipse cx="255.8" cy="143.4" rx="1.1" ry="1.5" fill="#b8e0ee"/>
<ellipse cx="254.6" cy="100.8" rx="1.0" ry="1.3" fill="#b8e0ee"/>
<ellipse cx="107.1" cy="97.6" rx="1.4" ry="1.6" fill="#d4f0f8"/>
<ellipse cx="204.2" cy="221.7" rx="2.1" ry="1.4" fill="#c4e8f4"/>
<ellipse cx="188.3" cy="118.2" rx="2.1" ry="2.1" fill="#d4f0f8"/>
<ellipse cx="100.0" cy="110.7" rx="1.0" ry="1.2" fill="#d4f0f8"/>
<ellipse cx="79.9" cy="162.6" rx="1.0" ry="1.8" fill="#b8e0ee"/>
<ellipse cx="256.4" cy="177.5" rx="1.3" ry="2.4" fill="#b8e0ee"/>
<ellipse cx="156.6" cy="207.8" rx="0.9" ry="2.3" fill="#c4e8f4"/>
<ellipse cx="186.8" cy="164.9" rx="1.4" ry="0.8" fill="#d4f0f8"/>
<ellipse cx="183.0" cy="142.5" rx="0.8" ry="2.1" fill="#c4e8f4"/>
<ellipse cx="188.1" cy="174.2" rx="1.2" ry="1.5" fill="#b8e0ee"/>
<ellipse cx="247.7" cy="193.2" rx="0.9" ry="1.9" fill="#d4f0f8"/>
<ellipse cx="82.3" cy="122.8" rx="1.9" ry="1.4" fill="#b8e0ee"/>
<ellipse cx="215.8" cy="205.2" rx="2.4" ry="1.0" fill="#c4e8f4"/>
<ellipse cx="204.5" cy="99.5" rx="1.7" ry="1.1" fill="#d4f0f8"/>
<ellipse cx="286.8" cy="113.2" rx="0.8" ry="1.0" fill="#b8e0ee"/>
<ellipse cx="172.8" cy="148.7" rx="2.0" ry="2.1" fill="#b8e0ee"/>
<ellipse cx="237.0" cy="122.7" rx="1.1" ry="2.3" fill="#b8e0ee"/>
<ellipse cx="276.6" cy="133.3" rx="1.0" ry="1.6" fill="#b8e0ee"/>
<ellipse cx="163.3" cy="128.8" rx="1.3" ry="2.2" fill="#d4f0f8"/>
<ellipse cx="208.7" cy="163.9" rx="1.3" ry="2.2" fill="#c4e8f4"/>
<ellipse cx="141.5" cy="222.4" rx="2.3" ry="1.2" fill="#c4e8f4"/>
<ellipse cx="191.9" cy="198.6" rx="2.2" ry="0.9" fill="#c4e8f4"/>
<ellipse cx="282.5" cy="172.3" rx="1.5" ry="2.1" fill="#d4f0f8"/>
<ellipse cx="243.2" cy="145.9" rx="1.3" ry="0.9" fill="#b8e0ee"/>
<ellipse cx="217.1" cy="152.4" rx="2.2" ry="1.8" fill="#c4e8f4"/>
<ellipse cx="253.5" cy="181.3" rx="2.2" ry="2.3" fill="#b8e0ee"/>
<ellipse cx="185.1" cy="182.0" rx="1.7" ry="1.4" fill="#b8e0ee"/>
<path d="M129.2,183.8 Q128.9,177.2 134.9,175.9" stroke="#4d7a8a" stroke-width="1.5" fill="none"/>
<path d="M212.9,107.7 Q216.9,100.7 216.0,103.1" stroke="#4d7a8a" stroke-width="1.5" fill="none"/>
<path d="M132.9,101.4 Q138.0,99.5 136.9,91.1" stroke="#c0e2ec" stroke-width="1.1" fill="none"/>
<path d="M150.4,114.8 Q149.8,114.8 139.6,111.3" stroke="#5d8a9a" stroke-width="1.3" fill="none"/>
<path d="M216.0,131.9 Q210.6,128.0 209.9,125.1" stroke="#c0e2ec" stroke-width="1.4" fill="none"/>
<path d="M102.0,182.6 Q100.8,186.4 105.6,189.8" stroke="#5d8a9a" stroke-width="1.1" fill="none"/>
<path d="M129.8,121.9 Q125.3,119.9 119.8,116.6" stroke="#4d7a8a" stroke-width="1.4" fill="none"/>
<path d="M101.1,144.8 Q91.6,145.2 92.0,147.0" stroke="#4d7a8a" stroke-width="1.0" fill="none"/>
<path d="M181.6,185.8 Q183.8,192.2 181.4,193.9" stroke="#5d8a9a" stroke-width="1.5" fill="none"/>
<path d="M248.5,110.1 Q246.7,110.3 240.7,117.8" stroke="#c0e2ec" stroke-width="1.3" fill="none"/>
<path d="M230.8,111.4 Q227.7,107.7 222.7,106.9" stroke="#c0e2ec" stroke-width="1.3" fill="none"/>
<path d="M112.3,108.5 Q111.4,103.4 102.4,104.9" stroke="#5d8a9a" stroke-width="1.3" fill="none"/>
<path d="M194.3,162.1 Q190.3,159.0 189.4,164.1" stroke="#4d7a8a" stroke-width="0.9" fill="none"/>
<path d="M140.5,141.4 Q137.3,143.6 130.1,136.9" stroke="#c0e2ec" stroke-width="1.1" fill="none"/>
<path d="M145.8,155.0 Q139.7,156.1 134.1,153.7" stroke="#5d8a9a" stroke-width="1.4" fill="none"/>
<path d="M154.9,188.3 Q156.0,193.9 158.6,193.1" stroke="#4d7a8a" stroke-width="1.0" fill="none"/>
<path d="M201.3,133.4 Q197.6,135.2 199.7,139.9" stroke="#4d7a8a" stroke-width="1.1" fill="none"/>
<path d="M173.4,89.5 Q177.3,86.3 178.1,87.0" stroke="#5d8a9a" stroke-width="1.2" fill="none"/>
<path d="M194.0,129.9 Q187.1,135.0 187.5,132.7" stroke="#4d7a8a" stroke-width="1.1" fill="none"/>
<path d="M106.7,126.1 Q104.0,126.6 104.3,135.0" stroke="#5d8a9a" stroke-width="1.2" fill="none"/>
<path d="M82.0,160.9 Q81.2,162.0 83.9,155.3" stroke="#c0e2ec" stroke-width="1.4" fill="none"/>
<path d="M272.4,183.3 Q270.7,179.8 277.5,180.9" stroke="#4d7a8a" stroke-width="0.8" fill="none"/>
<path d="M124.5,205.7 Q127.9,199.4 126.0,199.2" stroke="#5d8a9a" stroke-width="1.3" fill="none"/>
<path d="M97.7,100.0 Q99.7,93.9 101.0,91.9" stroke="#c0e2ec" stroke-width="1.0" fill="none"/>
<path d="M95.9,188.6 Q104.5,187.8 107.0,188.5" stroke="#c0e2ec" stroke-width="1.6" fill="none"/>
<path d="M220.2,186.2 Q221.7,186.7 231.3,189.1" stroke="#5d8a9a" stroke-width="1.2" fill="none"/>
<path d="M131.1,199.1 Q130.5,196.8 139.2,199.3" stroke="#5d8a9a" stroke-width="1.0" fill="none"/>
<path d="M281.2,136.4 Q285.7,132.9 284.3,131.1" stroke="#4d7a8a" stroke-width="1.2" fill="none"/>
<path d="M270.1,161.1 Q267.6,160.3 265.6,165.6" stroke="#c0e2ec" stroke-width="1.5" fill="none"/>
<path d="M178.0,155.6 Q177.3,151.5 183.9,155.8" stroke="#5d8a9a" stroke-width="1.3" fill="none"/>
<path d="M231.2,87.5 Q237.4,80.1 239.7,82.2" stroke="#c0e2ec" stroke-width="0.8" fill="none"/>
<path d="M261.4,100.9 Q260.0,105.4 267.6,109.9" stroke="#5d8a9a" stroke-width="1.0" fill="none"/>
<path d="M141.7,156.1 Q149.3,154.8 148.7,150.5" stroke="#c0e2ec" stroke-width="0.8" fill="none"/>
<path d="M226.0,144.4 Q221.6,142.8 225.3,133.0" stroke="#5d8a9a" stroke-width="1.5" fill="none"/>
<path d="M254.6,183.2 Q253.0,176.5 249.6,174.5" stroke="#4d7a8a" stroke-width="0.9" fill="none"/>
<path d="M111.5,95.0 Q116.6,93.7 117.1,101.8" stroke="#5d8a9a" stroke-width="1.5" fill="none"/>
<path d="M155.9,203.7 Q151.3,206.1 148.3,199.9" stroke="#5d8a9a" stroke-width="1.2" fill="none"/>
<path d="M133.9,137.1 Q133.0,140.7 135.5,142.7" stroke="#5d8a9a" stroke-width="1.5" fill="none"/>
<path d="M138.2,221.0 Q136.5,218.3 137.0,216.0" stroke="#c0e2ec" stroke-width="0.8" fill="none"/>
<path d="M256.6,160.2 Q248.0,160.0 249.1,157.2" stroke="#4d7a8a" stroke-width="1.4" fill="none"/>
<path d="M194.0,175.1 Q194.2,171.7 201.1,174.7" stroke="#4d7a8a" stroke-width="1.0" fill="none"/>
<path d="M196.3,214.2 Q197.1,212.5 193.9,204.9" stroke="#c0e2ec" stroke-width="0.9" fill="none"/>
<path d="M84.2,174.0 Q82.8,170.2 75.7,172.9" stroke="#c0e2ec" stroke-width="1.4" fill="none"/>
<path d="M139.2,124.5 Q142.6,120.5 141.6,118.1" stroke="#5d8a9a" stroke-width="1.0" fill="none"/>
<path d="M229.3,93.8 Q235.4,102.5 234.4,101.9" stroke="#5d8a9a" stroke-width="0.9" fill="none"/>
<path d="M94.4,154.4 Q102.7,156.2 103.2,157.0" stroke="#4d7a8a" stroke-width="1.4" fill="none"/>
<path d="M123.5,129.7 Q131.2,125.7 131.1,129.8" stroke="#4d7a8a" stroke-width="1.4" fill="none"/>
<path d="M260.0,120.1 Q264.3,120.2 264.4,117.7" stroke="#4d7a8a" stroke-width="1.0" fill="none"/>
<path d="M76.6,134.4 Q72.6,131.7 76.4,124.2" stroke="#c0e2ec" stroke-width="0.9" fill="none"/>
<path d="M166.1,87.7 Q157.0,89.2 155.4,92.5" stroke="#4d7a8a" stroke-width="1.5" fill="none"/>
<path d="M208.2,136.6 Q207.2,133.4 209.4,131.6" stroke="#5d8a9a" stroke-width="0.9" fill="none"/>
<path d="M125.5,104.8 Q121.1,98.5 125.6,93.1" stroke="#4d7a8a" stroke-width="1.2" fill="none"/>
<path d="M236.9,189.5 Q241.4,186.9 244.8,183.1" stroke="#4d7a8a" stroke-width="0.8" fill="none"/>
<path d="M132.2,144.0 Q138.2,147.8 136.0,153.7" stroke="#c0e2ec" stroke-width="0.9" fill="none"/>
<path d="M241.4,145.0 Q244.7,149.6 249.8,148.1" stroke="#c0e2ec" stroke-width="1.0" fill="none"/>
<path d="M265.1,110.3 Q268.0,112.4 270.3,110.9" stroke="#5d8a9a" stroke-width="1.1" fill="none"/>
<path d="M264.1,99.2 Q273.8,103.1 274.2,105.2" stroke="#5d8a9a" stroke-width="0.9" fill="none"/>
<path d="M189.6,184.5 Q188.9,178.8 188.4,179.6" stroke="#c0e2ec" stroke-width="0.9" fill="none"/>
<path d="M164.5,222.1 Q154.4,226.6 153.6,224.5" stroke="#4d7a8a" stroke-width="1.0" fill="none"/>
<path d="M248.1,159.5 Q253.1,166.7 251.5,164.5" stroke="#4d7a8a" stroke-width="1.3" fill="none"/>
<path d="M137.0,185.4 Q134.0,181.4 131.1,175.2" stroke="#4d7a8a" stroke-width="0.9" fill="none"/>
<path d="M243.5,88.9 Q242.0,88.8 236.5,94.8" stroke="#4d7a8a" stroke-width="1.4" fill="none"/>
<path d="M156.1,110.4 Q153.4,110.5 144.7,114.1" stroke="#5d8a9a" stroke-width="1.3" fill="none"/>
<path d="M211.9,105.8 Q212.3,111.7 212.2,111.8" stroke="#c0e2ec" stroke-width="1.4" fill="none"/>
<path d="M225.3,156.1 Q225.9,151.5 228.4,148.7" stroke="#5d8a9a" stroke-width="1.0" fill="none"/>
<path d="M239.9,149.0 Q238.5,139.5 243.4,139.6" stroke="#5d8a9a" stroke-width="1.6" fill="none"/>
<path d="M195.2,171.7 Q197.6,167.8 192.0,160.7" stroke="#c0e2ec" stroke-width="0.9" fill="none"/>
<path d="M76.3,140.2 Q77.4,136.1 81.9,141.4" stroke="#4d7a8a" stroke-width="0.9" fill="none"/>
<path d="M152.4,173.7 Q153.0,171.6 160.1,168.0" stroke="#c0e2ec" stroke-width="1.2" fill="none"/>
<path d="M229.0,150.4 Q232.3,151.4 238.7,147.8" stroke="#5d8a9a" stroke-width="0.9" fill="none"/>
</g>
<ellipse cx="174" cy="178.5" rx="58" ry="60.5" fill="#8fb0bc" filter="url(#b1c)" opacity="0.8"/>
<g filter="url(#b1b)">
<path d="M122.0,191.8 C126.2,186.7 134.3,179.8 142.0,178.0 C149.7,176.2 162.8,177.5 168.0,180.8 C173.2,184.0 171.8,189.5 173.0,197.2 C174.2,205.0 174.8,221.5 175.0,227.5 C175.2,233.5 177.5,232.4 174.0,233.0 C170.5,233.6 161.3,232.7 154.0,231.3 C146.7,230.0 136.2,228.6 130.0,224.8 C123.8,220.9 118.3,213.8 117.0,208.2 C115.7,202.8 117.8,196.8 122.0,191.8 Z" fill="#8eaebb" stroke="#b4d4de" stroke-width="1.1"/>
<path d="M226.0,191.8 C221.8,186.7 213.7,179.8 206.0,178.0 C198.3,176.2 185.2,177.5 180.0,180.8 C174.8,184.0 176.2,189.5 175.0,197.2 C173.8,205.0 173.2,221.5 173.0,227.5 C172.8,233.5 170.5,232.4 174.0,233.0 C177.5,233.6 186.7,232.7 194.0,231.3 C201.3,230.0 211.8,228.6 218.0,224.8 C224.2,220.9 229.7,213.8 231.0,208.2 C232.3,202.8 230.2,196.8 226.0,191.8 Z" fill="#8eaebb" stroke="#b4d4de" stroke-width="1.1"/>
<path d="M165,182.4 C159,197.2 160,216.5 168,230.2" fill="none" stroke="#b0d0da" stroke-width="1"/>
<path d="M183,182.4 C189,197.2 188,216.5 180,230.2" fill="none" stroke="#b0d0da" stroke-width="1"/>
<path d="M155,182.4 C149,197.2 150,216.5 158,230.2" fill="none" stroke="#b0d0da" stroke-width="1"/>
<path d="M193,182.4 C199,197.2 198,216.5 190,230.2" fill="none" stroke="#b0d0da" stroke-width="1"/>
<path d="M145,182.4 C139,197.2 140,216.5 148,230.2" fill="none" stroke="#b0d0da" stroke-width="1"/>
<path d="M203,182.4 C209,197.2 208,216.5 200,230.2" fill="none" stroke="#b0d0da" stroke-width="1"/>
<path d="M135,182.4 C129,197.2 130,216.5 138,230.2" fill="none" stroke="#b0d0da" stroke-width="1"/>
<path d="M213,182.4 C219,197.2 218,216.5 210,230.2" fill="none" stroke="#b0d0da" stroke-width="1"/>
<ellipse cx="172" cy="115" rx="20" ry="9" fill="#7595a2"/>
<path d="M153.0,165.0 C149.5,160.1 151.8,146.0 153.0,139.8 C154.2,133.5 156.5,130.2 160.0,127.6 C163.5,125.0 169.3,124.0 174.0,124.0 C178.7,124.0 184.5,125.0 188.0,127.6 C191.5,130.2 193.8,133.5 195.0,139.8 C196.2,146.0 198.5,160.1 195.0,165.0 C191.5,169.9 181.0,169.0 174.0,169.0 C167.0,169.0 156.5,169.9 153.0,165.0 Z" fill="#8a9ea8" stroke="#c6dee6" stroke-width="1.3"/>
<path d="M155,160 C166,164 182,164 193,160" fill="none" stroke="#4a6470" stroke-width="2.5"/>
<path d="M155,166 C166,171 182,171 193,166" fill="none" stroke="#d0e6ee" stroke-width="1.8"/>
<path d="M157,173 C166,170 182,170 191,173 L179,183 L174,211.0 L169,183 Z" fill="#3a5460"/>
<ellipse cx="174" cy="176" rx="6" ry="3.5" fill="#7d949e"/>
<ellipse cx="141" cy="148.8" rx="13" ry="19" fill="#98bcc9" stroke="#88aebe" stroke-width="0.8"/>
<ellipse cx="209" cy="146.5" rx="14" ry="20" fill="#98bcc9" stroke="#88aebe" stroke-width="0.8"/>
</g>
<g fill="#ff2b99" filter="url(#b1b)">
<path d="M112.0,113.0 C112.1,111.9 113.9,105.7 115.0,105.0 C116.1,104.3 127.7,103.7 129.0,103.0 C130.3,102.3 134.0,95.6 135.0,95.0 C136.0,94.4 142.9,93.7 144.0,94.0 C145.1,94.3 151.1,98.2 152.0,99.0 C152.9,99.8 155.7,105.5 157.0,106.0 C158.3,106.5 170.0,106.3 171.0,107.0 C172.0,107.7 172.5,115.1 172.0,116.0 C171.5,116.9 165.3,120.6 163.0,121.0 C160.7,121.4 141.3,122.5 138.0,122.5 C134.7,122.5 114.7,121.6 113.0,121.0 C111.3,120.4 111.9,114.1 112.0,113.0 Z"/>
<path d="M198.5,109.0 C198.8,107.7 203.6,105.4 205.0,105.0 C206.4,104.6 218.1,102.7 220.0,103.0 C221.9,103.3 232.5,107.7 234.0,109.0 C235.5,110.3 241.6,120.9 242.0,122.5 C242.4,124.1 240.6,132.7 239.5,133.5 C238.4,134.3 228.0,135.2 226.0,135.0 C224.0,134.8 211.2,131.7 209.5,131.0 C207.8,130.3 200.7,125.5 200.0,124.0 C199.3,122.5 198.2,110.3 198.5,109.0 Z"/>
<path d="M259.0,104.7 C259.5,103.9 265.9,104.1 267.0,104.7 C268.1,105.3 273.9,111.6 275.0,113.0 C276.1,114.4 282.3,123.3 283.0,125.0 C283.7,126.7 285.2,137.5 285.0,139.0 C284.8,140.5 281.5,146.5 280.6,147.0 C279.7,147.5 272.8,146.7 272.0,146.0 C271.2,145.3 268.1,137.4 268.0,136.0 C267.9,134.6 270.2,126.1 270.0,125.0 C269.8,123.9 266.3,120.5 265.6,120.0 C264.9,119.5 260.4,118.0 260.0,117.0 C259.6,116.0 258.5,105.5 259.0,104.7 Z"/>
<path d="M76.5,161.0 C77.0,160.4 87.4,159.4 89.0,159.5 C90.6,159.6 98.9,162.7 100.0,162.0 C101.1,161.3 103.5,150.0 105.0,148.5 C106.5,147.0 119.8,140.6 122.0,140.0 C124.2,139.4 136.7,138.7 138.0,139.0 C139.3,139.3 141.5,143.0 141.0,144.0 C140.5,145.0 131.0,152.3 130.0,154.0 C129.0,155.7 126.5,167.3 126.0,169.0 C125.5,170.7 124.0,179.0 123.0,180.0 C122.0,181.0 112.7,183.8 111.0,184.0 C109.3,184.2 98.5,183.5 97.0,183.0 C95.5,182.5 90.0,177.9 89.0,177.0 C88.0,176.1 82.8,170.1 82.0,169.0 C81.2,167.9 76.0,161.6 76.5,161.0 Z"/>
<path d="M220.0,148.5 C220.7,147.5 229.8,146.8 231.0,147.0 C232.2,147.2 237.4,149.5 238.0,151.0 C238.6,152.5 238.9,167.4 239.6,169.0 C240.3,170.6 246.6,174.2 248.0,174.5 C249.4,174.8 258.9,172.7 260.0,173.0 C261.1,173.3 264.1,177.7 264.0,178.7 C263.9,179.7 259.6,187.2 258.7,188.0 C257.8,188.8 251.8,191.3 250.5,191.0 C249.2,190.7 241.0,183.5 239.6,182.8 C238.2,182.1 231.1,180.7 230.0,180.0 C228.9,179.3 223.7,173.2 223.0,172.0 C222.3,170.8 220.2,163.6 220.0,162.0 C219.8,160.4 219.3,149.5 220.0,148.5 Z"/>
</g>
<g filter="url(#b1b)">
<ellipse cx="86" cy="118" rx="6" ry="4" fill="#1e4452"/>
<ellipse cx="188" cy="89" rx="14" ry="3.5" fill="#244c5c"/>
<ellipse cx="234" cy="96" rx="4" ry="3" fill="#1e4452"/>
<ellipse cx="262" cy="116" rx="3" ry="2.5" fill="#1e4452"/>
<ellipse cx="255" cy="160" rx="5" ry="3" fill="#3a6474"/><ellipse cx="264" cy="168" rx="3" ry="4" fill="#3a6474"/>
</g>
<line x1="71.5" y1="33" x2="94" y2="74" stroke="#f2aa1c" stroke-width="3.2" stroke-linecap="round"/>
<path d="M101,86 L86,75 L99,68 Z" fill="#f2aa1c"/>
<line x1="69.5" y1="257" x2="93" y2="182" stroke="#d8407e" stroke-width="2.4"/>
<line x1="309" y1="254" x2="304.5" y2="230" stroke="#eea6b6" stroke-width="2"/>
<path d="M303,221 L298,232 L309,231 Z" fill="#eea6b6"/>
<text x="18.5" y="21" font-family="Liberation Sans" font-weight="bold" font-size="15" fill="#eaa934" textLength="284" lengthAdjust="spacingAndGlyphs">ABDOMINAL SUB-CUTANEOUS FAT MASS</text>
<text x="24.4" y="277" font-family="Liberation Sans" font-weight="bold" font-size="14.5" fill="#da488c" textLength="138" lengthAdjust="spacingAndGlyphs">VISCERAL FAT MASS</text>
<text x="207" y="277" font-family="Liberation Sans" font-weight="bold" font-size="14.5" fill="#eaa8b8" textLength="129" lengthAdjust="spacingAndGlyphs">DORSAL FAT MASS</text>

</g>
</svg>
</div>
<div class="img" style="left:464px;top:446px;width:352px;height:288px;">
<svg width="352" height="288" viewBox="0 0 352 288">
<defs>
<radialGradient id="bg2" cx="0.55" cy="0.42" r="0.75">
<stop offset="0" stop-color="#0c6c8a"/>
<stop offset="0.4" stop-color="#085674"/>
<stop offset="0.7" stop-color="#043c50"/>
<stop offset="1" stop-color="#022a3a"/>
</radialGradient>
<radialGradient id="cbl2" cx="0" cy="1" r="0.35">
<stop offset="0" stop-color="#000" stop-opacity="1"/>
<stop offset="0.5" stop-color="#000" stop-opacity="0.6"/>
<stop offset="1" stop-color="#000" stop-opacity="0"/>
</radialGradient>
<radialGradient id="cbr2" cx="1" cy="1" r="0.4">
<stop offset="0" stop-color="#000" stop-opacity="0.9"/>
<stop offset="0.5" stop-color="#000" stop-opacity="0.45"/>
<stop offset="1" stop-color="#000" stop-opacity="0"/>
</radialGradient>
<radialGradient id="ctr2" cx="1" cy="0" r="0.5">
<stop offset="0" stop-color="#000" stop-opacity="0.25"/>
<stop offset="1" stop-color="#000" stop-opacity="0"/>
</radialGradient>
<filter id="b2a" x="-10%" y="-10%" width="120%" height="120%"><feGaussianBlur stdDeviation="0.7"/></filter>
<filter id="b2b" x="-10%" y="-10%" width="120%" height="120%"><feGaussianBlur stdDeviation="0.45"/></filter>
<filter id="b2c" x="-10%" y="-10%" width="120%" height="120%"><feGaussianBlur stdDeviation="0.9"/></filter>
<filter id="gb2" x="0" y="0" width="100%" height="100%"><feGaussianBlur stdDeviation="0.45" edgeMode="duplicate"/></filter>
</defs>
<g filter="url(#gb2)">
<rect width="352" height="288" fill="url(#bg2)"/>
<rect width="352" height="288" fill="url(#cbl2)"/>
<rect width="352" height="288" fill="url(#cbr2)"/>
<rect width="352" height="288" fill="url(#ctr2)"/>
<g filter="url(#b2a)">
<path d="M178.0,56.0 C182.0,56.2 180.3,50.5 190.0,50.0 C199.7,49.5 223.3,50.7 236.0,53.0 C248.7,55.3 255.9,58.2 266.0,64.0 C276.1,69.8 288.5,79.2 296.6,88.0 C304.7,96.8 310.4,107.2 314.6,116.5 C318.8,125.8 320.0,132.8 322.0,144.0 C324.0,155.2 326.2,172.3 326.7,184.0 C327.1,195.7 326.4,206.3 324.7,214.0 C323.0,221.7 321.3,224.9 316.6,230.0 C311.9,235.1 306.9,241.0 296.6,244.5 C286.3,248.0 269.4,249.8 255.0,251.0 C240.6,252.2 222.8,252.5 210.0,252.0 C197.2,251.5 189.6,247.9 178.0,248.0 C166.4,248.1 153.5,251.8 140.6,252.5 C127.7,253.2 113.9,253.5 100.5,252.5 C87.1,251.5 71.4,249.5 60.0,246.5 C48.6,243.5 38.3,239.8 32.0,234.4 C25.7,229.0 24.0,222.4 22.0,214.0 C20.0,205.6 19.7,195.7 20.0,184.0 C20.3,172.3 21.3,154.7 24.0,144.0 C26.7,133.3 31.7,127.9 36.0,120.0 C40.3,112.1 43.6,105.0 50.0,96.4 C56.4,87.8 65.2,75.0 74.3,68.3 C83.4,61.6 93.5,59.5 104.5,56.3 C115.5,53.1 130.3,50.4 140.6,49.2 C150.8,48.0 159.8,47.9 166.0,49.0 C172.2,50.1 174.0,55.8 178.0,56.0 Z" fill="#7aa8b8" opacity="0.5"/>
<path d="M176.0,64.3 C191.9,64.6 220.9,65.6 236.0,68.3 C251.1,71.0 257.6,75.4 266.4,80.4 C275.1,85.4 282.1,91.8 288.5,98.5 C294.9,105.2 300.9,113.0 304.6,120.6 C308.3,128.2 308.9,133.4 310.6,144.0 C312.3,154.6 314.3,171.6 314.6,184.0 C314.9,196.4 314.3,210.6 312.6,218.3 C310.9,226.0 309.0,227.1 304.6,230.4 C300.2,233.8 294.5,236.4 286.5,238.4 C278.5,240.4 268.1,241.8 256.4,242.5 C244.7,243.2 227.6,243.8 216.2,242.5 C204.8,241.2 194.4,237.0 188.0,235.0 C181.6,233.0 182.6,229.8 178.0,230.5 C173.4,231.2 170.3,237.2 160.7,239.5 C151.1,241.8 134.0,244.0 120.6,244.5 C107.2,245.0 92.5,243.8 80.4,242.5 C68.3,241.2 55.6,240.1 48.0,236.4 C40.4,232.7 37.7,229.1 35.0,220.4 C32.3,211.7 31.5,196.7 32.0,184.0 C32.5,171.3 35.7,154.3 38.0,144.0 C40.3,133.7 42.7,127.2 46.0,122.0 C49.3,116.8 52.3,118.1 58.0,112.5 C63.7,106.9 71.7,94.8 80.4,88.4 C89.2,82.0 100.5,78.0 110.5,74.3 C120.5,70.6 129.7,68.0 140.6,66.3 C151.5,64.6 160.1,64.0 176.0,64.3 Z" fill="#98c9da" stroke="#c4eaf6" stroke-width="2.4"/>
<path d="M48.2,140.6 C50.2,135.9 54.3,121.0 60.3,112.5 C66.3,104.0 75.7,95.4 84.4,89.4 C93.1,83.4 97.2,80.4 112.5,76.4 C127.8,72.4 155.4,66.0 176.0,65.3 C196.6,64.6 220.9,69.1 236.0,72.3 C251.1,75.5 257.3,79.4 266.4,84.4 C275.5,89.4 283.5,95.1 290.5,102.5 C297.5,109.9 305.6,124.2 308.6,128.6 L304.6,129.0 C301.8,126.0 294.4,116.8 288.0,111.0 C281.6,105.2 275.1,98.6 266.4,94.0 C257.7,89.4 251.1,85.7 236.0,83.5 C220.9,81.3 195.9,80.3 176.0,81.0 C156.1,81.7 131.2,84.8 116.5,87.5 C101.8,90.2 96.6,92.9 88.0,97.5 C79.4,102.1 70.7,108.1 65.0,115.0 C59.3,121.9 55.8,135.0 54.0,139.0 Z" fill="#c9a751"/>
<path d="M42.0,164.0 C44.3,160.0 48.3,165.7 52.0,170.0 C55.7,174.3 59.6,184.6 64.3,190.0 C69.0,195.4 74.4,199.2 80.4,202.3 C86.4,205.4 92.1,205.3 100.5,208.3 C108.9,211.3 121.2,217.1 130.6,220.4 C140.0,223.8 152.3,225.4 156.7,228.4 C161.0,231.4 166.1,237.1 156.7,238.4 C147.3,239.7 116.6,237.4 100.5,236.4 C84.4,235.4 69.8,235.1 60.0,232.4 C50.2,229.7 45.7,226.8 42.0,220.4 C38.3,214.0 38.0,203.4 38.0,194.0 C38.0,184.6 39.7,168.0 42.0,164.0 Z" fill="#d3abbb"/>
<path d="M304.6,162.0 C306.9,165.4 309.9,184.5 310.6,194.2 C311.3,203.9 310.9,214.0 308.6,220.4 C306.3,226.8 305.3,229.6 296.6,232.4 C287.9,235.2 269.8,236.6 256.4,237.4 C243.0,238.2 224.9,238.2 216.2,237.4 C207.5,236.6 204.0,234.6 204.0,232.4 C204.0,230.2 210.8,228.1 216.2,224.4 C221.6,220.7 228.9,214.7 236.3,210.3 C243.7,205.9 252.7,202.2 260.4,198.2 C268.1,194.2 276.5,190.2 282.5,186.2 C288.5,182.2 292.9,178.0 296.6,174.0 C300.3,170.0 302.3,158.6 304.6,162.0 Z" fill="#d3abbb"/>
<path d="M60.0,150.0 C60.7,142.2 63.0,134.7 66.0,128.0 C69.0,121.3 73.2,114.7 78.0,110.0 C82.8,105.3 86.3,103.2 95.0,100.0 C103.7,96.8 116.5,93.3 130.0,91.0 C143.5,88.7 161.0,86.5 176.0,86.0 C191.0,85.5 206.8,86.3 220.0,88.0 C233.2,89.7 245.0,91.7 255.0,96.0 C265.0,100.3 273.8,107.5 280.0,114.0 C286.2,120.5 289.3,127.3 292.0,135.0 C294.7,142.7 296.3,153.2 296.0,160.0 C295.7,166.8 293.3,171.3 290.0,176.0 C286.7,180.7 281.8,184.5 276.0,188.0 C270.2,191.5 262.3,193.7 255.0,197.0 C247.7,200.3 239.2,203.8 232.0,208.0 C224.8,212.2 220.7,218.3 212.0,222.0 C203.3,225.7 190.3,228.8 180.0,230.0 C169.7,231.2 159.7,231.0 150.0,229.0 C140.3,227.0 130.3,222.2 122.0,218.0 C113.7,213.8 107.7,208.3 100.0,204.0 C92.3,199.7 82.3,196.8 76.0,192.0 C69.7,187.2 64.7,182.0 62.0,175.0 C59.3,168.0 59.3,157.8 60.0,150.0 Z" fill="#98c2d0" stroke="#c4ecf6" stroke-width="1.6"/>
</g>
<g filter="url(#b2c)">
<ellipse cx="98.9" cy="185.3" rx="1.6" ry="1.1" fill="#3d6a7c"/>
<ellipse cx="180.9" cy="158.7" rx="2.1" ry="0.8" fill="#5a8a9c"/>
<ellipse cx="280.1" cy="147.7" rx="2.1" ry="1.2" fill="#5a8a9c"/>
<ellipse cx="266.5" cy="174.7" rx="2.3" ry="1.7" fill="#4a7a8c"/>
<ellipse cx="223.8" cy="179.4" rx="0.8" ry="2.0" fill="#3d6a7c"/>
<ellipse cx="231.9" cy="143.8" rx="1.1" ry="0.9" fill="#5a8a9c"/>
<ellipse cx="264.3" cy="119.8" rx="1.1" ry="2.4" fill="#5a8a9c"/>
<ellipse cx="240.0" cy="169.6" rx="1.0" ry="1.6" fill="#4a7a8c"/>
<ellipse cx="255.2" cy="115.0" rx="2.2" ry="1.5" fill="#5a8a9c"/>
<ellipse cx="146.2" cy="151.0" rx="1.3" ry="1.6" fill="#6896a8"/>
<ellipse cx="122.7" cy="206.1" rx="1.9" ry="2.4" fill="#5a8a9c"/>
<ellipse cx="177.1" cy="156.8" rx="1.7" ry="1.3" fill="#5a8a9c"/>
<ellipse cx="218.0" cy="176.2" rx="1.4" ry="1.8" fill="#3d6a7c"/>
<ellipse cx="132.4" cy="100.9" rx="2.3" ry="1.1" fill="#4a7a8c"/>
<ellipse cx="161.2" cy="109.0" rx="1.9" ry="2.2" fill="#4a7a8c"/>
<ellipse cx="286.2" cy="144.6" rx="2.3" ry="1.7" fill="#5a8a9c"/>
<ellipse cx="268.4" cy="156.7" rx="1.9" ry="2.3" fill="#6896a8"/>
<ellipse cx="118.0" cy="166.9" rx="2.1" ry="2.0" fill="#6896a8"/>
<ellipse cx="174.0" cy="206.5" rx="2.2" ry="1.9" fill="#4a7a8c"/>
<ellipse cx="153.1" cy="211.3" rx="2.4" ry="2.0" fill="#5a8a9c"/>
<ellipse cx="173.0" cy="122.3" rx="0.8" ry="1.1" fill="#6896a8"/>
<ellipse cx="268.0" cy="172.6" rx="1.6" ry="2.2" fill="#6896a8"/>
<ellipse cx="172.5" cy="106.0" rx="1.0" ry="2.0" fill="#3d6a7c"/>
<ellipse cx="150.2" cy="104.1" rx="1.2" ry="1.3" fill="#4a7a8c"/>
<ellipse cx="159.4" cy="184.4" rx="1.0" ry="1.0" fill="#5a8a9c"/>
<ellipse cx="165.5" cy="106.3" rx="1.8" ry="1.0" fill="#4a7a8c"/>
<ellipse cx="187.1" cy="132.7" rx="2.2" ry="1.8" fill="#6896a8"/>
<ellipse cx="107.6" cy="193.2" rx="1.8" ry="1.6" fill="#4a7a8c"/>
<ellipse cx="236.0" cy="94.2" rx="1.4" ry="2.2" fill="#4a7a8c"/>
<ellipse cx="153.9" cy="167.6" rx="1.2" ry="1.9" fill="#5a8a9c"/>
<ellipse cx="134.0" cy="92.0" rx="1.0" ry="2.0" fill="#6896a8"/>
<ellipse cx="249.5" cy="156.6" rx="1.7" ry="0.9" fill="#4a7a8c"/>
<ellipse cx="200.4" cy="132.6" rx="1.3" ry="1.8" fill="#3d6a7c"/>
<ellipse cx="238.8" cy="113.3" rx="2.4" ry="1.4" fill="#3d6a7c"/>
<ellipse cx="239.3" cy="150.5" rx="1.9" ry="1.9" fill="#4a7a8c"/>
<ellipse cx="171.1" cy="159.9" rx="0.9" ry="0.8" fill="#6896a8"/>
<ellipse cx="216.1" cy="92.1" rx="1.9" ry="2.1" fill="#3d6a7c"/>
<ellipse cx="230.8" cy="151.7" rx="1.4" ry="1.3" fill="#5a8a9c"/>
<ellipse cx="214.4" cy="91.4" rx="1.6" ry="1.9" fill="#5a8a9c"/>
<ellipse cx="207.9" cy="195.2" rx="1.2" ry="2.3" fill="#3d6a7c"/>
<ellipse cx="151.1" cy="174.5" rx="1.1" ry="1.1" fill="#4a7a8c"/>
<ellipse cx="266.7" cy="189.2" rx="1.7" ry="0.9" fill="#4a7a8c"/>
<ellipse cx="235.2" cy="152.6" rx="2.4" ry="1.1" fill="#4a7a8c"/>
<ellipse cx="162.3" cy="183.7" rx="1.8" ry="1.9" fill="#3d6a7c"/>
<ellipse cx="136.0" cy="122.6" rx="2.2" ry="1.6" fill="#5a8a9c"/>
<ellipse cx="116.3" cy="185.1" rx="1.1" ry="1.4" fill="#6896a8"/>
<ellipse cx="154.8" cy="152.3" rx="1.9" ry="1.9" fill="#3d6a7c"/>
<ellipse cx="206.7" cy="100.3" rx="0.9" ry="2.1" fill="#5a8a9c"/>
<ellipse cx="64.5" cy="158.2" rx="1.4" ry="1.5" fill="#4a7a8c"/>
<ellipse cx="166.1" cy="228.7" rx="1.0" ry="1.3" fill="#5a8a9c"/>
<ellipse cx="167.2" cy="214.8" rx="1.1" ry="1.7" fill="#3d6a7c"/>
<ellipse cx="275.2" cy="148.2" rx="1.3" ry="1.5" fill="#4a7a8c"/>
<ellipse cx="268.3" cy="121.2" rx="2.2" ry="0.8" fill="#6896a8"/>
<ellipse cx="197.4" cy="97.6" rx="1.0" ry="1.6" fill="#5a8a9c"/>
<ellipse cx="184.3" cy="163.1" rx="1.6" ry="2.1" fill="#6896a8"/>
<ellipse cx="139.8" cy="124.8" rx="1.3" ry="1.8" fill="#3d6a7c"/>
<ellipse cx="217.7" cy="112.8" rx="1.9" ry="1.1" fill="#4a7a8c"/>
<ellipse cx="123.7" cy="94.5" rx="1.7" ry="1.2" fill="#4a7a8c"/>
<ellipse cx="246.3" cy="143.5" rx="1.0" ry="2.3" fill="#4a7a8c"/>
<ellipse cx="187.1" cy="144.8" rx="2.0" ry="1.6" fill="#5a8a9c"/>
<ellipse cx="143.1" cy="162.7" rx="0.8" ry="1.4" fill="#5a8a9c"/>
<ellipse cx="172.9" cy="210.4" rx="2.1" ry="2.3" fill="#6896a8"/>
<ellipse cx="220.4" cy="117.3" rx="2.4" ry="1.4" fill="#4a7a8c"/>
<ellipse cx="143.1" cy="174.4" rx="2.0" ry="1.8" fill="#4a7a8c"/>
<ellipse cx="186.5" cy="213.0" rx="1.2" ry="1.6" fill="#5a8a9c"/>
<ellipse cx="127.5" cy="150.8" rx="2.3" ry="1.2" fill="#3d6a7c"/>
<ellipse cx="201.5" cy="136.7" rx="1.7" ry="2.4" fill="#3d6a7c"/>
<ellipse cx="234.7" cy="192.8" rx="2.3" ry="1.6" fill="#5a8a9c"/>
<ellipse cx="271.2" cy="160.0" rx="1.1" ry="1.9" fill="#4a7a8c"/>
<ellipse cx="204.8" cy="152.9" rx="2.0" ry="1.8" fill="#6896a8"/>
<ellipse cx="119.7" cy="147.9" rx="1.2" ry="1.6" fill="#6896a8"/>
<ellipse cx="108.6" cy="199.6" rx="1.7" ry="2.1" fill="#3d6a7c"/>
<ellipse cx="233.8" cy="191.2" rx="1.4" ry="1.4" fill="#5a8a9c"/>
<ellipse cx="197.2" cy="169.0" rx="1.1" ry="1.2" fill="#6896a8"/>
<ellipse cx="233.3" cy="203.0" rx="1.9" ry="0.8" fill="#6896a8"/>
<ellipse cx="138.8" cy="137.0" rx="1.8" ry="1.9" fill="#6896a8"/>
<ellipse cx="148.5" cy="122.1" rx="2.1" ry="2.3" fill="#6896a8"/>
<ellipse cx="106.9" cy="208.1" rx="2.0" ry="1.2" fill="#4a7a8c"/>
<ellipse cx="90.7" cy="194.2" rx="1.0" ry="1.8" fill="#3d6a7c"/>
<ellipse cx="212.5" cy="160.0" rx="1.6" ry="1.9" fill="#5a8a9c"/>
<ellipse cx="111.4" cy="184.8" rx="2.3" ry="1.6" fill="#3d6a7c"/>
<ellipse cx="127.0" cy="123.8" rx="0.9" ry="2.0" fill="#6896a8"/>
<ellipse cx="202.0" cy="159.6" rx="1.8" ry="1.5" fill="#5a8a9c"/>
<ellipse cx="178.1" cy="224.6" rx="1.5" ry="0.8" fill="#3d6a7c"/>
<ellipse cx="154.8" cy="149.9" rx="2.0" ry="1.7" fill="#6896a8"/>
<ellipse cx="163.6" cy="119.5" rx="2.1" ry="2.0" fill="#6896a8"/>
<ellipse cx="141.4" cy="108.2" rx="2.1" ry="1.3" fill="#4a7a8c"/>
<ellipse cx="137.5" cy="117.0" rx="1.5" ry="1.1" fill="#4a7a8c"/>
<ellipse cx="96.1" cy="165.3" rx="1.7" ry="1.0" fill="#5a8a9c"/>
<ellipse cx="155.6" cy="195.6" rx="1.9" ry="1.1" fill="#5a8a9c"/>
<ellipse cx="111.8" cy="167.8" rx="1.1" ry="1.7" fill="#5a8a9c"/>
<ellipse cx="253.1" cy="160.9" rx="1.4" ry="2.3" fill="#4a7a8c"/>
<ellipse cx="250.3" cy="184.9" rx="0.9" ry="1.6" fill="#6896a8"/>
<ellipse cx="196.8" cy="112.2" rx="2.0" ry="1.2" fill="#4a7a8c"/>
<ellipse cx="171.3" cy="123.7" rx="1.3" ry="1.4" fill="#5a8a9c"/>
<ellipse cx="175.9" cy="124.0" rx="0.9" ry="1.3" fill="#3d6a7c"/>
<ellipse cx="81.3" cy="132.8" rx="2.0" ry="1.0" fill="#5a8a9c"/>
<ellipse cx="132.8" cy="102.1" rx="2.3" ry="0.9" fill="#6896a8"/>
<ellipse cx="236.0" cy="205.1" rx="1.8" ry="1.6" fill="#4a7a8c"/>
<ellipse cx="191.3" cy="138.4" rx="0.9" ry="1.8" fill="#5a8a9c"/>
<ellipse cx="203.5" cy="148.6" rx="1.5" ry="1.1" fill="#4a7a8c"/>
<ellipse cx="265.0" cy="134.5" rx="2.2" ry="2.3" fill="#5a8a9c"/>
<ellipse cx="118.7" cy="137.1" rx="1.1" ry="1.9" fill="#6896a8"/>
<ellipse cx="272.2" cy="112.2" rx="1.6" ry="1.3" fill="#3d6a7c"/>
<ellipse cx="94.4" cy="183.8" rx="2.2" ry="1.2" fill="#4a7a8c"/>
<ellipse cx="149.6" cy="226.6" rx="2.0" ry="0.8" fill="#5a8a9c"/>
<ellipse cx="196.4" cy="217.9" rx="2.1" ry="1.8" fill="#5a8a9c"/>
<ellipse cx="235.5" cy="199.7" rx="2.2" ry="2.1" fill="#4a7a8c"/>
<ellipse cx="290.9" cy="157.9" rx="2.4" ry="1.8" fill="#5a8a9c"/>
<ellipse cx="161.6" cy="181.6" rx="2.0" ry="1.6" fill="#3d6a7c"/>
<ellipse cx="238.0" cy="109.9" rx="2.0" ry="0.9" fill="#4a7a8c"/>
<ellipse cx="210.3" cy="102.0" rx="1.8" ry="2.2" fill="#3d6a7c"/>
<ellipse cx="128.8" cy="196.4" rx="1.2" ry="0.8" fill="#4a7a8c"/>
<ellipse cx="156.6" cy="200.0" rx="1.5" ry="2.3" fill="#3d6a7c"/>
<ellipse cx="268.0" cy="124.2" rx="1.0" ry="1.4" fill="#3d6a7c"/>
<ellipse cx="281.0" cy="136.7" rx="2.1" ry="1.2" fill="#5a8a9c"/>
<ellipse cx="140.3" cy="110.0" rx="1.9" ry="1.6" fill="#3d6a7c"/>
<ellipse cx="136.7" cy="184.3" rx="2.2" ry="2.2" fill="#5a8a9c"/>
<ellipse cx="206.7" cy="110.3" rx="1.0" ry="2.3" fill="#5a8a9c"/>
<ellipse cx="132.8" cy="122.4" rx="2.0" ry="1.4" fill="#5a8a9c"/>
<ellipse cx="247.6" cy="128.7" rx="1.2" ry="1.3" fill="#4a7a8c"/>
<ellipse cx="131.8" cy="148.4" rx="2.4" ry="0.9" fill="#5a8a9c"/>
<ellipse cx="168.8" cy="185.8" rx="1.1" ry="1.8" fill="#5a8a9c"/>
<ellipse cx="228.7" cy="156.1" rx="2.1" ry="2.3" fill="#5a8a9c"/>
<ellipse cx="183.0" cy="189.9" rx="1.8" ry="0.9" fill="#4a7a8c"/>
<ellipse cx="164.0" cy="168.7" rx="2.4" ry="2.2" fill="#3d6a7c"/>
<ellipse cx="245.9" cy="156.3" rx="1.1" ry="1.3" fill="#3d6a7c"/>
<ellipse cx="240.2" cy="118.4" rx="2.3" ry="1.0" fill="#4a7a8c"/>
<ellipse cx="276.7" cy="180.1" rx="2.0" ry="1.4" fill="#3d6a7c"/>
<ellipse cx="235.7" cy="139.0" rx="2.3" ry="1.8" fill="#4a7a8c"/>
<ellipse cx="269.7" cy="152.3" rx="1.3" ry="2.1" fill="#6896a8"/>
<ellipse cx="215.3" cy="154.1" rx="1.9" ry="1.3" fill="#5a8a9c"/>
<ellipse cx="205.3" cy="193.3" rx="2.0" ry="1.8" fill="#6896a8"/>
<ellipse cx="279.0" cy="124.0" rx="2.4" ry="1.6" fill="#5a8a9c"/>
<ellipse cx="230.8" cy="124.2" rx="1.5" ry="1.7" fill="#6896a8"/>
<ellipse cx="118.7" cy="123.0" rx="2.2" ry="1.7" fill="#4a7a8c"/>
<ellipse cx="241.6" cy="158.9" rx="1.8" ry="1.9" fill="#5a8a9c"/>
<ellipse cx="153.6" cy="174.9" rx="1.5" ry="0.8" fill="#5a8a9c"/>
<ellipse cx="128.9" cy="140.3" rx="2.2" ry="1.9" fill="#5a8a9c"/>
<ellipse cx="121.5" cy="189.8" rx="1.6" ry="1.7" fill="#6896a8"/>
<ellipse cx="145.5" cy="139.9" rx="1.6" ry="1.6" fill="#3d6a7c"/>
<ellipse cx="122.2" cy="109.1" rx="2.2" ry="1.0" fill="#5a8a9c"/>
<ellipse cx="214.6" cy="216.6" rx="2.0" ry="1.1" fill="#5a8a9c"/>
<ellipse cx="200.4" cy="189.8" rx="0.9" ry="0.9" fill="#4a7a8c"/>
<ellipse cx="218.9" cy="205.0" rx="1.1" ry="1.4" fill="#5a8a9c"/>
<ellipse cx="253.7" cy="152.8" rx="2.4" ry="1.0" fill="#4a7a8c"/>
<ellipse cx="281.0" cy="140.7" rx="1.1" ry="2.1" fill="#6896a8"/>
<ellipse cx="150.4" cy="103.0" rx="1.8" ry="2.1" fill="#5a8a9c"/>
<ellipse cx="248.9" cy="134.5" rx="2.1" ry="1.6" fill="#6896a8"/>
<ellipse cx="79.8" cy="190.7" rx="0.9" ry="2.0" fill="#6896a8"/>
<ellipse cx="275.7" cy="168.9" rx="1.4" ry="1.6" fill="#5a8a9c"/>
<ellipse cx="135.3" cy="100.6" rx="1.5" ry="1.5" fill="#6896a8"/>
<ellipse cx="173.0" cy="126.7" rx="1.5" ry="1.8" fill="#4a7a8c"/>
<ellipse cx="227.1" cy="124.2" rx="1.2" ry="1.7" fill="#6896a8"/>
<ellipse cx="192.0" cy="119.5" rx="1.4" ry="1.3" fill="#6896a8"/>
<ellipse cx="104.8" cy="138.2" rx="2.0" ry="1.3" fill="#3d6a7c"/>
<ellipse cx="165.3" cy="224.5" rx="2.4" ry="0.9" fill="#4a7a8c"/>
<ellipse cx="87.7" cy="157.7" rx="1.3" ry="2.1" fill="#6896a8"/>
<ellipse cx="159.9" cy="142.1" rx="0.9" ry="2.2" fill="#3d6a7c"/>
<ellipse cx="101.8" cy="194.0" rx="1.1" ry="1.8" fill="#4a7a8c"/>
<ellipse cx="185.0" cy="225.1" rx="1.6" ry="2.2" fill="#6896a8"/>
<ellipse cx="237.5" cy="106.9" rx="2.3" ry="1.9" fill="#6896a8"/>
<ellipse cx="248.0" cy="118.9" rx="0.8" ry="1.8" fill="#5a8a9c"/>
<ellipse cx="107.8" cy="134.1" rx="1.8" ry="2.0" fill="#6896a8"/>
<ellipse cx="193.9" cy="219.5" rx="2.1" ry="2.1" fill="#3d6a7c"/>
<ellipse cx="159.8" cy="94.9" rx="2.0" ry="1.2" fill="#6896a8"/>
<ellipse cx="67.8" cy="155.8" rx="1.3" ry="1.9" fill="#6896a8"/>
<ellipse cx="197.0" cy="124.9" rx="1.2" ry="1.3" fill="#4a7a8c"/>
<ellipse cx="194.3" cy="205.2" rx="1.4" ry="1.6" fill="#5a8a9c"/>
<ellipse cx="121.2" cy="185.9" rx="2.1" ry="1.4" fill="#4a7a8c"/>
<ellipse cx="172.0" cy="198.9" rx="0.9" ry="2.4" fill="#3d6a7c"/>
<ellipse cx="234.4" cy="135.0" rx="1.1" ry="1.1" fill="#3d6a7c"/>
<ellipse cx="172.6" cy="179.3" rx="2.3" ry="1.1" fill="#6896a8"/>
<ellipse cx="185.2" cy="155.1" rx="2.3" ry="0.9" fill="#3d6a7c"/>
<ellipse cx="102.6" cy="205.5" rx="1.8" ry="1.9" fill="#5a8a9c"/>
<ellipse cx="209.8" cy="115.0" rx="2.2" ry="1.3" fill="#3d6a7c"/>
<ellipse cx="264.1" cy="104.8" rx="1.3" ry="1.9" fill="#3d6a7c"/>
<ellipse cx="126.1" cy="137.8" rx="1.1" ry="2.1" fill="#3d6a7c"/>
<ellipse cx="140.4" cy="165.2" rx="1.2" ry="1.2" fill="#3d6a7c"/>
<ellipse cx="187.9" cy="206.8" rx="1.8" ry="1.3" fill="#5a8a9c"/>
<ellipse cx="203.0" cy="168.7" rx="1.1" ry="1.9" fill="#6896a8"/>
<ellipse cx="167.0" cy="161.6" rx="1.5" ry="1.8" fill="#6896a8"/>
<ellipse cx="182.1" cy="92.1" rx="1.0" ry="1.7" fill="#6896a8"/>
<ellipse cx="178.9" cy="131.9" rx="2.3" ry="1.3" fill="#6896a8"/>
<ellipse cx="171.1" cy="183.0" rx="1.3" ry="1.5" fill="#4a7a8c"/>
<ellipse cx="209.4" cy="149.8" rx="1.4" ry="2.1" fill="#6896a8"/>
<ellipse cx="112.5" cy="179.8" rx="2.4" ry="2.1" fill="#5a8a9c"/>
<ellipse cx="230.3" cy="156.6" rx="1.4" ry="0.9" fill="#4a7a8c"/>
<ellipse cx="171.7" cy="227.2" rx="1.1" ry="1.3" fill="#4a7a8c"/>
<ellipse cx="204.8" cy="118.3" rx="2.1" ry="1.4" fill="#4a7a8c"/>
<ellipse cx="219.8" cy="200.7" rx="1.1" ry="2.0" fill="#4a7a8c"/>
<ellipse cx="151.6" cy="150.3" rx="1.9" ry="2.0" fill="#5a8a9c"/>
<ellipse cx="219.2" cy="148.0" rx="1.1" ry="1.1" fill="#6896a8"/>
<ellipse cx="164.6" cy="167.9" rx="1.5" ry="0.9" fill="#6896a8"/>
<ellipse cx="173.9" cy="148.0" rx="1.0" ry="1.8" fill="#5a8a9c"/>
<ellipse cx="233.2" cy="191.6" rx="2.0" ry="1.3" fill="#5a8a9c"/>
<ellipse cx="207.2" cy="176.2" rx="1.3" ry="1.5" fill="#4a7a8c"/>
<ellipse cx="230.0" cy="95.7" rx="2.0" ry="1.7" fill="#3d6a7c"/>
<ellipse cx="159.5" cy="221.5" rx="1.5" ry="2.4" fill="#4a7a8c"/>
<ellipse cx="210.4" cy="152.1" rx="1.3" ry="1.9" fill="#4a7a8c"/>
<ellipse cx="186.5" cy="141.3" rx="1.8" ry="0.9" fill="#4a7a8c"/>
<ellipse cx="113.3" cy="123.9" rx="2.2" ry="2.2" fill="#6896a8"/>
<ellipse cx="146.7" cy="208.0" rx="1.3" ry="2.3" fill="#5a8a9c"/>
<ellipse cx="223.7" cy="106.5" rx="1.4" ry="1.5" fill="#3d6a7c"/>
<ellipse cx="84.3" cy="136.5" rx="1.0" ry="1.1" fill="#5a8a9c"/>
<ellipse cx="168.2" cy="178.1" rx="1.6" ry="1.2" fill="#6896a8"/>
<ellipse cx="193.3" cy="109.0" rx="2.4" ry="1.4" fill="#4a7a8c"/>
<ellipse cx="162.6" cy="127.1" rx="1.8" ry="2.2" fill="#3d6a7c"/>
<ellipse cx="247.6" cy="116.9" rx="1.8" ry="1.6" fill="#5a8a9c"/>
<ellipse cx="136.6" cy="155.7" rx="2.2" ry="1.1" fill="#4a7a8c"/>
<ellipse cx="268.1" cy="107.8" rx="0.8" ry="2.2" fill="#6896a8"/>
<ellipse cx="247.1" cy="124.7" rx="1.8" ry="1.7" fill="#6896a8"/>
<ellipse cx="214.4" cy="212.0" rx="0.9" ry="2.1" fill="#5a8a9c"/>
<ellipse cx="166.3" cy="189.9" rx="2.3" ry="2.3" fill="#4a7a8c"/>
<ellipse cx="250.0" cy="129.4" rx="1.2" ry="1.1" fill="#4a7a8c"/>
<ellipse cx="211.8" cy="100.3" rx="0.8" ry="2.4" fill="#5a8a9c"/>
<ellipse cx="139.7" cy="92.0" rx="2.0" ry="1.7" fill="#6896a8"/>
<ellipse cx="138.0" cy="159.6" rx="2.1" ry="1.3" fill="#4a7a8c"/>
<ellipse cx="208.1" cy="209.5" rx="2.3" ry="2.4" fill="#6896a8"/>
<ellipse cx="255.7" cy="121.6" rx="2.1" ry="1.1" fill="#6896a8"/>
<ellipse cx="103.5" cy="103.4" rx="2.2" ry="2.1" fill="#d4f0f8"/>
<ellipse cx="78.8" cy="124.8" rx="1.3" ry="1.8" fill="#c4e8f4"/>
<ellipse cx="199.1" cy="130.7" rx="1.1" ry="1.0" fill="#c4e8f4"/>
<ellipse cx="185.3" cy="191.0" rx="0.9" ry="1.3" fill="#d4f0f8"/>
<ellipse cx="139.0" cy="112.6" rx="1.3" ry="2.0" fill="#b8e0ee"/>
<ellipse cx="285.3" cy="179.7" rx="1.2" ry="1.2" fill="#c4e8f4"/>
<ellipse cx="223.3" cy="148.2" rx="1.7" ry="0.9" fill="#b8e0ee"/>
<ellipse cx="278.3" cy="158.9" rx="2.2" ry="1.4" fill="#d4f0f8"/>
<ellipse cx="192.9" cy="143.2" rx="1.3" ry="1.8" fill="#c4e8f4"/>
<ellipse cx="188.2" cy="148.4" rx="2.2" ry="1.5" fill="#d4f0f8"/>
<ellipse cx="81.4" cy="149.9" rx="1.5" ry="1.4" fill="#c4e8f4"/>
<ellipse cx="180.8" cy="143.7" rx="1.5" ry="1.1" fill="#c4e8f4"/>
<ellipse cx="67.1" cy="140.2" rx="1.3" ry="1.4" fill="#c4e8f4"/>
<ellipse cx="186.4" cy="200.6" rx="2.0" ry="1.8" fill="#d4f0f8"/>
<ellipse cx="83.8" cy="114.1" rx="2.1" ry="2.3" fill="#c4e8f4"/>
<ellipse cx="168.7" cy="207.9" rx="1.9" ry="1.0" fill="#b8e0ee"/>
<ellipse cx="127.1" cy="184.5" rx="1.6" ry="0.9" fill="#b8e0ee"/>
<ellipse cx="121.1" cy="103.2" rx="1.6" ry="1.8" fill="#c4e8f4"/>
<ellipse cx="140.4" cy="110.7" rx="1.8" ry="1.9" fill="#d4f0f8"/>
<ellipse cx="105.0" cy="183.8" rx="1.7" ry="1.6" fill="#c4e8f4"/>
<ellipse cx="237.6" cy="169.7" rx="1.1" ry="1.4" fill="#d4f0f8"/>
<ellipse cx="149.2" cy="208.2" rx="1.1" ry="2.0" fill="#c4e8f4"/>
<ellipse cx="209.9" cy="93.1" rx="1.9" ry="1.5" fill="#d4f0f8"/>
<ellipse cx="118.8" cy="119.2" rx="2.3" ry="2.3" fill="#b8e0ee"/>
<ellipse cx="193.6" cy="111.7" rx="1.3" ry="0.8" fill="#d4f0f8"/>
<ellipse cx="97.4" cy="126.3" rx="1.9" ry="1.2" fill="#b8e0ee"/>
<ellipse cx="241.4" cy="117.0" rx="2.2" ry="1.2" fill="#b8e0ee"/>
<ellipse cx="186.2" cy="106.1" rx="1.2" ry="2.4" fill="#b8e0ee"/>
<ellipse cx="222.6" cy="187.2" rx="1.8" ry="1.1" fill="#d4f0f8"/>
<ellipse cx="190.1" cy="138.1" rx="1.2" ry="1.2" fill="#d4f0f8"/>
<ellipse cx="184.0" cy="136.1" rx="1.6" ry="1.6" fill="#d4f0f8"/>
<ellipse cx="92.0" cy="163.6" rx="1.4" ry="2.2" fill="#b8e0ee"/>
<ellipse cx="239.8" cy="141.7" rx="1.6" ry="1.9" fill="#d4f0f8"/>
<ellipse cx="139.8" cy="93.8" rx="2.4" ry="1.0" fill="#d4f0f8"/>
<ellipse cx="191.6" cy="210.5" rx="0.8" ry="1.3" fill="#d4f0f8"/>
<ellipse cx="240.8" cy="102.3" rx="1.9" ry="2.1" fill="#d4f0f8"/>
<ellipse cx="254.8" cy="100.2" rx="2.3" ry="1.2" fill="#c4e8f4"/>
<ellipse cx="131.5" cy="131.0" rx="1.7" ry="1.6" fill="#b8e0ee"/>
<ellipse cx="189.6" cy="132.4" rx="2.3" ry="2.0" fill="#d4f0f8"/>
<ellipse cx="213.9" cy="132.3" rx="0.8" ry="1.2" fill="#b8e0ee"/>
<ellipse cx="87.8" cy="131.3" rx="2.3" ry="1.0" fill="#c4e8f4"/>
<ellipse cx="127.1" cy="142.7" rx="2.1" ry="1.3" fill="#c4e8f4"/>
<ellipse cx="187.7" cy="212.4" rx="2.2" ry="1.5" fill="#b8e0ee"/>
<ellipse cx="126.1" cy="164.2" rx="1.0" ry="1.2" fill="#c4e8f4"/>
<ellipse cx="133.3" cy="106.0" rx="1.2" ry="1.2" fill="#c4e8f4"/>
<ellipse cx="96.1" cy="166.5" rx="2.1" ry="1.6" fill="#b8e0ee"/>
<ellipse cx="76.3" cy="134.9" rx="1.0" ry="1.9" fill="#b8e0ee"/>
<ellipse cx="271.3" cy="148.5" rx="0.9" ry="1.9" fill="#d4f0f8"/>
<ellipse cx="250.7" cy="182.6" rx="1.1" ry="1.9" fill="#b8e0ee"/>
<ellipse cx="259.0" cy="194.5" rx="1.1" ry="1.6" fill="#c4e8f4"/>
<ellipse cx="210.1" cy="176.6" rx="2.0" ry="1.1" fill="#c4e8f4"/>
<ellipse cx="245.9" cy="163.4" rx="1.9" ry="2.3" fill="#d4f0f8"/>
<ellipse cx="139.6" cy="143.3" rx="1.9" ry="2.0" fill="#d4f0f8"/>
<ellipse cx="217.5" cy="151.0" rx="1.2" ry="2.2" fill="#b8e0ee"/>
<ellipse cx="244.7" cy="118.5" rx="1.2" ry="1.3" fill="#d4f0f8"/>
<ellipse cx="204.2" cy="120.8" rx="2.1" ry="1.4" fill="#b8e0ee"/>
<ellipse cx="291.2" cy="169.6" rx="1.4" ry="1.4" fill="#c4e8f4"/>
<ellipse cx="189.9" cy="158.6" rx="2.0" ry="1.0" fill="#d4f0f8"/>
<ellipse cx="220.6" cy="188.8" rx="1.4" ry="1.0" fill="#c4e8f4"/>
<ellipse cx="179.2" cy="192.8" rx="0.8" ry="1.5" fill="#c4e8f4"/>
<ellipse cx="250.9" cy="108.7" rx="1.6" ry="1.1" fill="#c4e8f4"/>
<ellipse cx="83.6" cy="139.4" rx="1.1" ry="1.9" fill="#b8e0ee"/>
<ellipse cx="224.0" cy="182.3" rx="1.5" ry="1.5" fill="#d4f0f8"/>
<ellipse cx="224.6" cy="169.2" rx="2.2" ry="2.0" fill="#c4e8f4"/>
<ellipse cx="210.5" cy="174.4" rx="0.9" ry="2.1" fill="#b8e0ee"/>
<ellipse cx="187.7" cy="219.0" rx="2.3" ry="2.3" fill="#d4f0f8"/>
<ellipse cx="240.9" cy="99.6" rx="1.2" ry="1.7" fill="#b8e0ee"/>
<ellipse cx="204.9" cy="125.4" rx="2.2" ry="2.3" fill="#d4f0f8"/>
<ellipse cx="180.7" cy="216.3" rx="1.4" ry="0.9" fill="#d4f0f8"/>
<ellipse cx="164.6" cy="203.3" rx="1.5" ry="1.4" fill="#c4e8f4"/>
<ellipse cx="77.4" cy="175.2" rx="1.4" ry="1.3" fill="#b8e0ee"/>
<ellipse cx="204.6" cy="200.2" rx="2.3" ry="2.4" fill="#c4e8f4"/>
<ellipse cx="85.9" cy="152.8" rx="1.3" ry="2.1" fill="#c4e8f4"/>
<ellipse cx="167.3" cy="109.8" rx="2.4" ry="1.1" fill="#c4e8f4"/>
<ellipse cx="159.6" cy="179.1" rx="1.8" ry="1.3" fill="#b8e0ee"/>
<ellipse cx="216.7" cy="191.5" rx="1.3" ry="1.7" fill="#b8e0ee"/>
<ellipse cx="159.6" cy="107.9" rx="2.0" ry="1.4" fill="#b8e0ee"/>
<ellipse cx="276.6" cy="152.2" rx="2.2" ry="1.6" fill="#d4f0f8"/>
<ellipse cx="133.3" cy="209.6" rx="1.0" ry="1.4" fill="#b8e0ee"/>
<ellipse cx="86.3" cy="118.9" rx="2.3" ry="1.1" fill="#b8e0ee"/>
<ellipse cx="121.1" cy="217.3" rx="1.6" ry="1.5" fill="#d4f0f8"/>
<ellipse cx="240.7" cy="135.7" rx="1.0" ry="2.0" fill="#b8e0ee"/>
<ellipse cx="221.0" cy="136.2" rx="1.8" ry="1.9" fill="#b8e0ee"/>
<ellipse cx="219.5" cy="166.0" rx="1.1" ry="1.1" fill="#c4e8f4"/>
<ellipse cx="96.8" cy="122.5" rx="2.3" ry="1.2" fill="#c4e8f4"/>
<ellipse cx="71.8" cy="156.1" rx="1.3" ry="1.0" fill="#d4f0f8"/>
<ellipse cx="209.7" cy="174.7" rx="1.5" ry="1.9" fill="#b8e0ee"/>
<ellipse cx="238.8" cy="196.2" rx="1.3" ry="0.9" fill="#c4e8f4"/>
<ellipse cx="187.7" cy="120.0" rx="1.6" ry="1.4" fill="#d4f0f8"/>
<ellipse cx="220.2" cy="90.3" rx="1.4" ry="1.0" fill="#d4f0f8"/>
<ellipse cx="159.3" cy="206.1" rx="1.4" ry="2.3" fill="#c4e8f4"/>
<ellipse cx="203.6" cy="137.4" rx="1.2" ry="2.0" fill="#c4e8f4"/>
<ellipse cx="82.3" cy="128.5" rx="2.0" ry="2.1" fill="#d4f0f8"/>
<ellipse cx="150.6" cy="203.4" rx="2.0" ry="2.3" fill="#b8e0ee"/>
<ellipse cx="139.8" cy="213.2" rx="1.2" ry="0.9" fill="#b8e0ee"/>
<ellipse cx="247.4" cy="145.4" rx="1.1" ry="2.1" fill="#d4f0f8"/>
<ellipse cx="83.1" cy="108.7" rx="2.0" ry="1.2" fill="#c4e8f4"/>
<ellipse cx="161.7" cy="98.8" rx="1.5" ry="1.8" fill="#b8e0ee"/>
<ellipse cx="165.1" cy="226.0" rx="0.9" ry="1.4" fill="#b8e0ee"/>
<ellipse cx="174.1" cy="157.1" rx="1.2" ry="1.0" fill="#d4f0f8"/>
<ellipse cx="270.4" cy="173.7" rx="1.7" ry="2.4" fill="#b8e0ee"/>
<ellipse cx="200.8" cy="171.5" rx="1.4" ry="1.2" fill="#b8e0ee"/>
<ellipse cx="172.4" cy="157.7" rx="2.0" ry="2.3" fill="#c4e8f4"/>
<ellipse cx="226.8" cy="168.1" rx="2.3" ry="2.0" fill="#b8e0ee"/>
<ellipse cx="141.7" cy="194.9" rx="1.6" ry="2.3" fill="#c4e8f4"/>
<ellipse cx="118.8" cy="136.0" rx="0.9" ry="1.1" fill="#c4e8f4"/>
<ellipse cx="109.6" cy="117.0" rx="1.2" ry="1.4" fill="#d4f0f8"/>
<ellipse cx="159.1" cy="171.5" rx="1.6" ry="1.0" fill="#d4f0f8"/>
<ellipse cx="245.0" cy="104.6" rx="1.7" ry="1.0" fill="#c4e8f4"/>
<ellipse cx="187.3" cy="91.5" rx="1.3" ry="2.3" fill="#b8e0ee"/>
<path d="M199.7,147.0 Q199.6,149.6 205.7,153.4" stroke="#4d7a8a" stroke-width="1.3" fill="none"/>
<path d="M291.6,157.7 Q289.1,158.6 288.0,154.1" stroke="#4d7a8a" stroke-width="1.4" fill="none"/>
<path d="M199.0,180.7 Q202.3,182.5 208.2,179.0" stroke="#5d8a9a" stroke-width="1.6" fill="none"/>
<path d="M195.2,203.3 Q195.0,205.3 189.0,203.9" stroke="#4d7a8a" stroke-width="0.9" fill="none"/>
<path d="M102.1,132.6 Q100.1,133.6 105.7,142.7" stroke="#4d7a8a" stroke-width="1.3" fill="none"/>
<path d="M281.9,126.4 Q289.4,129.7 288.9,132.2" stroke="#5d8a9a" stroke-width="1.2" fill="none"/>
<path d="M121.0,101.4 Q122.9,93.8 118.2,91.3" stroke="#c0e2ec" stroke-width="0.9" fill="none"/>
<path d="M235.9,100.5 Q227.6,103.0 228.6,102.9" stroke="#5d8a9a" stroke-width="0.8" fill="none"/>
<path d="M251.1,185.0 Q257.5,179.8 255.1,173.8" stroke="#5d8a9a" stroke-width="1.4" fill="none"/>
<path d="M149.0,113.8 Q143.2,118.8 143.6,115.0" stroke="#5d8a9a" stroke-width="1.0" fill="none"/>
<path d="M84.4,162.2 Q84.6,158.9 78.5,160.5" stroke="#5d8a9a" stroke-width="0.9" fill="none"/>
<path d="M215.0,145.7 Q215.8,139.3 210.4,141.6" stroke="#c0e2ec" stroke-width="1.4" fill="none"/>
<path d="M188.8,147.2 Q192.2,140.0 193.3,141.8" stroke="#5d8a9a" stroke-width="0.9" fill="none"/>
<path d="M209.0,133.9 Q208.7,134.6 213.5,126.2" stroke="#4d7a8a" stroke-width="1.1" fill="none"/>
<path d="M222.5,102.4 Q230.9,105.8 233.3,99.4" stroke="#5d8a9a" stroke-width="0.8" fill="none"/>
<path d="M149.0,199.1 Q148.1,198.7 153.0,194.7" stroke="#4d7a8a" stroke-width="1.3" fill="none"/>
<path d="M159.1,125.9 Q165.9,122.5 168.3,125.5" stroke="#c0e2ec" stroke-width="1.0" fill="none"/>
<path d="M177.5,197.9 Q171.6,193.1 169.8,191.9" stroke="#5d8a9a" stroke-width="1.4" fill="none"/>
<path d="M269.3,182.2 Q273.5,180.6 277.0,175.3" stroke="#5d8a9a" stroke-width="1.0" fill="none"/>
<path d="M122.3,208.7 Q125.2,207.7 128.8,214.2" stroke="#c0e2ec" stroke-width="1.4" fill="none"/>
<path d="M244.7,102.0 Q239.7,99.1 235.2,98.0" stroke="#4d7a8a" stroke-width="1.0" fill="none"/>
<path d="M145.5,107.1 Q152.5,109.0 154.6,112.9" stroke="#c0e2ec" stroke-width="1.1" fill="none"/>
<path d="M224.4,173.1 Q228.7,179.8 228.2,176.7" stroke="#4d7a8a" stroke-width="1.3" fill="none"/>
<path d="M92.8,191.4 Q92.5,190.1 90.7,183.4" stroke="#4d7a8a" stroke-width="1.3" fill="none"/>
<path d="M199.6,133.1 Q205.6,131.8 204.5,136.3" stroke="#5d8a9a" stroke-width="1.6" fill="none"/>
<path d="M238.8,118.0 Q244.6,116.6 247.2,114.6" stroke="#4d7a8a" stroke-width="1.4" fill="none"/>
<path d="M278.4,130.9 Q288.8,126.5 289.5,129.6" stroke="#5d8a9a" stroke-width="1.6" fill="none"/>
<path d="M133.2,218.8 Q127.9,223.7 128.3,225.6" stroke="#4d7a8a" stroke-width="1.0" fill="none"/>
<path d="M156.0,94.4 Q156.0,96.9 149.5,97.6" stroke="#5d8a9a" stroke-width="1.1" fill="none"/>
<path d="M129.9,203.9 Q127.3,201.9 124.7,209.6" stroke="#c0e2ec" stroke-width="1.3" fill="none"/>
<path d="M252.1,112.2 Q256.3,120.7 255.0,119.7" stroke="#5d8a9a" stroke-width="1.5" fill="none"/>
<path d="M152.4,141.1 Q153.9,146.4 157.7,142.2" stroke="#c0e2ec" stroke-width="1.3" fill="none"/>
<path d="M229.7,106.7 Q232.9,100.4 229.8,94.8" stroke="#4d7a8a" stroke-width="1.5" fill="none"/>
<path d="M159.9,184.9 Q157.9,174.4 163.5,173.6" stroke="#c0e2ec" stroke-width="1.3" fill="none"/>
<path d="M185.5,114.4 Q186.8,111.7 192.8,113.4" stroke="#5d8a9a" stroke-width="1.5" fill="none"/>
<path d="M281.3,164.0 Q278.2,162.0 280.8,156.7" stroke="#c0e2ec" stroke-width="0.9" fill="none"/>
<path d="M217.4,102.2 Q219.2,104.4 228.7,100.0" stroke="#4d7a8a" stroke-width="1.5" fill="none"/>
<path d="M172.5,220.8 Q172.8,222.7 172.1,226.1" stroke="#c0e2ec" stroke-width="1.3" fill="none"/>
<path d="M266.6,114.4 Q261.8,112.6 265.5,104.4" stroke="#4d7a8a" stroke-width="1.5" fill="none"/>
<path d="M175.3,192.0 Q179.2,198.7 174.6,203.3" stroke="#5d8a9a" stroke-width="1.4" fill="none"/>
<path d="M194.4,168.4 Q187.3,167.3 187.4,160.4" stroke="#5d8a9a" stroke-width="1.3" fill="none"/>
<path d="M282.0,166.3 Q287.8,166.2 293.8,166.9" stroke="#5d8a9a" stroke-width="1.3" fill="none"/>
<path d="M204.4,205.9 Q208.5,199.2 206.6,199.8" stroke="#4d7a8a" stroke-width="1.5" fill="none"/>
<path d="M217.9,102.0 Q215.0,93.3 218.1,91.1" stroke="#c0e2ec" stroke-width="1.2" fill="none"/>
<path d="M200.0,220.2 Q200.5,216.7 205.6,211.2" stroke="#c0e2ec" stroke-width="1.4" fill="none"/>
<path d="M90.1,159.2 Q91.2,167.6 92.2,166.4" stroke="#4d7a8a" stroke-width="1.4" fill="none"/>
<path d="M94.9,176.9 Q96.3,183.7 96.5,184.7" stroke="#5d8a9a" stroke-width="0.8" fill="none"/>
<path d="M243.1,192.0 Q241.7,193.5 237.5,189.7" stroke="#5d8a9a" stroke-width="1.5" fill="none"/>
<path d="M142.4,115.7 Q138.1,114.3 137.8,106.9" stroke="#5d8a9a" stroke-width="1.4" fill="none"/>
<path d="M84.6,162.6 Q77.4,160.3 79.8,156.7" stroke="#c0e2ec" stroke-width="1.6" fill="none"/>
<path d="M243.6,185.8 Q246.0,184.2 243.0,180.1" stroke="#5d8a9a" stroke-width="1.6" fill="none"/>
<path d="M209.5,219.2 Q208.9,222.3 207.7,224.9" stroke="#c0e2ec" stroke-width="1.3" fill="none"/>
<path d="M206.6,175.5 Q204.3,179.9 197.2,182.3" stroke="#5d8a9a" stroke-width="1.4" fill="none"/>
<path d="M231.6,203.5 Q233.3,201.9 234.1,192.6" stroke="#5d8a9a" stroke-width="1.1" fill="none"/>
<path d="M217.0,208.0 Q220.6,207.6 222.1,212.6" stroke="#5d8a9a" stroke-width="1.1" fill="none"/>
<path d="M269.1,121.4 Q269.1,116.9 265.2,117.3" stroke="#4d7a8a" stroke-width="1.6" fill="none"/>
<path d="M232.4,193.4 Q230.1,198.6 227.0,202.0" stroke="#c0e2ec" stroke-width="0.8" fill="none"/>
<path d="M148.5,131.3 Q148.1,131.0 156.4,138.4" stroke="#4d7a8a" stroke-width="1.5" fill="none"/>
<path d="M127.0,104.1 Q128.2,100.3 132.2,100.7" stroke="#c0e2ec" stroke-width="1.4" fill="none"/>
<path d="M108.5,167.4 Q106.3,170.0 102.2,162.9" stroke="#4d7a8a" stroke-width="1.4" fill="none"/>
<path d="M245.2,191.2 Q248.1,187.7 250.1,181.4" stroke="#4d7a8a" stroke-width="0.9" fill="none"/>
<path d="M244.6,178.2 Q235.9,179.0 234.5,175.4" stroke="#c0e2ec" stroke-width="0.8" fill="none"/>
<path d="M267.2,169.0 Q271.0,171.4 273.0,168.7" stroke="#5d8a9a" stroke-width="1.0" fill="none"/>
<path d="M183.3,110.8 Q181.9,108.8 174.8,114.5" stroke="#4d7a8a" stroke-width="1.5" fill="none"/>
<path d="M88.5,192.0 Q91.3,192.6 87.8,198.9" stroke="#4d7a8a" stroke-width="1.3" fill="none"/>
<path d="M129.4,115.0 Q127.6,121.6 131.9,120.0" stroke="#4d7a8a" stroke-width="1.4" fill="none"/>
<path d="M69.2,168.6 Q68.6,168.3 66.5,160.5" stroke="#4d7a8a" stroke-width="1.5" fill="none"/>
<path d="M260.5,186.0 Q260.0,192.2 259.7,194.1" stroke="#4d7a8a" stroke-width="1.5" fill="none"/>
<path d="M190.7,110.6 Q192.1,110.6 193.9,104.1" stroke="#c0e2ec" stroke-width="1.1" fill="none"/>
<path d="M133.9,169.5 Q138.5,167.4 134.0,164.3" stroke="#c0e2ec" stroke-width="1.5" fill="none"/>
</g>
<ellipse cx="176" cy="183.5" rx="58" ry="52.5" fill="#8fb0bc" filter="url(#b2c)" opacity="0.8"/>
<g filter="url(#b2b)">
<path d="M124.0,190.2 C128.2,185.4 136.3,178.8 144.0,177.0 C151.7,175.2 164.8,176.6 170.0,179.7 C175.2,182.7 173.8,188.0 175.0,195.6 C176.2,203.1 176.8,219.0 177.0,224.7 C177.2,230.4 179.5,229.4 176.0,230.0 C172.5,230.6 163.3,229.7 156.0,228.4 C148.7,227.1 138.2,225.8 132.0,222.1 C125.8,218.3 120.3,211.5 119.0,206.2 C117.7,200.8 119.8,195.1 124.0,190.2 Z" fill="#8eaebb" stroke="#b4d4de" stroke-width="1.1"/>
<path d="M228.0,190.2 C223.8,185.4 215.7,178.8 208.0,177.0 C200.3,175.2 187.2,176.6 182.0,179.7 C176.8,182.7 178.2,188.0 177.0,195.6 C175.8,203.1 175.2,219.0 175.0,224.7 C174.8,230.4 172.5,229.4 176.0,230.0 C179.5,230.6 188.7,229.7 196.0,228.4 C203.3,227.1 213.8,225.8 220.0,222.1 C226.2,218.3 231.7,211.5 233.0,206.2 C234.3,200.8 232.2,195.1 228.0,190.2 Z" fill="#8eaebb" stroke="#b4d4de" stroke-width="1.1"/>
<path d="M167,181.2 C161,195.6 162,214.1 170,227.3" fill="none" stroke="#b0d0da" stroke-width="1"/>
<path d="M185,181.2 C191,195.6 190,214.1 182,227.3" fill="none" stroke="#b0d0da" stroke-width="1"/>
<path d="M157,181.2 C151,195.6 152,214.1 160,227.3" fill="none" stroke="#b0d0da" stroke-width="1"/>
<path d="M195,181.2 C201,195.6 200,214.1 192,227.3" fill="none" stroke="#b0d0da" stroke-width="1"/>
<path d="M147,181.2 C141,195.6 142,214.1 150,227.3" fill="none" stroke="#b0d0da" stroke-width="1"/>
<path d="M205,181.2 C211,195.6 210,214.1 202,227.3" fill="none" stroke="#b0d0da" stroke-width="1"/>
<path d="M137,181.2 C131,195.6 132,214.1 140,227.3" fill="none" stroke="#b0d0da" stroke-width="1"/>
<path d="M215,181.2 C221,195.6 220,214.1 212,227.3" fill="none" stroke="#b0d0da" stroke-width="1"/>
<ellipse cx="174" cy="128" rx="20" ry="9" fill="#7595a2"/>
<path d="M155.0,166.0 C151.5,162.4 153.8,152.9 155.0,148.6 C156.2,144.2 158.5,141.6 162.0,139.6 C165.5,137.7 171.3,137.0 176.0,137.0 C180.7,137.0 186.5,137.7 190.0,139.6 C193.5,141.6 195.8,144.2 197.0,148.6 C198.2,152.9 200.5,162.4 197.0,166.0 C193.5,169.6 183.0,170.0 176.0,170.0 C169.0,170.0 158.5,169.6 155.0,166.0 Z" fill="#8a9ea8" stroke="#c6dee6" stroke-width="1.3"/>
<path d="M157,161 C168,165 184,165 195,161" fill="none" stroke="#4a6470" stroke-width="2.5"/>
<path d="M157,167 C168,172 184,172 195,167" fill="none" stroke="#d0e6ee" stroke-width="1.8"/>
<path d="M159,174 C168,171 184,171 193,174 L181,184 L176,208.8 L171,184 Z" fill="#3a5460"/>
<ellipse cx="176" cy="177" rx="6" ry="3.5" fill="#7d949e"/>
<ellipse cx="143" cy="155.2" rx="13" ry="19" fill="#98bcc9" stroke="#88aebe" stroke-width="0.8"/>
<ellipse cx="211" cy="153.5" rx="14" ry="20" fill="#98bcc9" stroke="#88aebe" stroke-width="0.8"/>
</g>
<g fill="#ff2b99" filter="url(#b2b)">
<path d="M126.6,102.5 C127.5,101.6 138.5,96.9 140.6,96.4 C142.7,95.9 157.2,95.0 158.7,95.4 C160.2,95.8 162.6,101.4 162.7,102.5 C162.8,103.6 161.4,111.6 160.7,112.5 C160.0,113.4 153.6,115.7 152.7,116.5 C151.8,117.3 147.5,123.5 146.7,124.6 C145.9,125.7 141.4,132.2 140.6,132.6 C139.8,133.0 135.3,131.7 134.6,130.6 C133.9,129.5 131.1,117.9 130.6,116.5 C130.1,115.1 127.9,110.4 127.6,109.5 C127.3,108.6 125.7,103.4 126.6,102.5 Z"/>
<path d="M234.3,98.5 C235.0,98.2 242.6,96.0 244.3,96.4 C246.0,96.8 258.3,103.3 260.4,104.5 C262.5,105.7 274.8,113.3 276.5,114.5 C278.2,115.7 285.1,121.7 285.5,122.6 C285.9,123.5 283.6,128.5 282.5,128.6 C281.4,128.7 270.4,125.5 268.4,124.6 C266.4,123.7 254.4,115.7 252.4,114.5 C250.4,113.3 239.6,107.4 238.3,106.5 C237.0,105.6 233.6,102.0 233.3,101.5 C233.0,101.0 233.6,98.8 234.3,98.5 Z"/>
<path d="M190,118.5 L224.2,117.5 L228,121 L229.5,141 L221,141 L219,127.5 L191,127.5 Z"/>
<path d="M224.2,151.0 C224.5,150.2 229.4,149.3 230.2,150.0 C231.0,150.7 235.2,160.7 236.3,162.0 C237.4,163.3 246.7,168.1 247.3,169.0 C247.9,169.9 246.3,175.3 245.3,176.0 C244.3,176.7 233.5,179.3 232.3,179.2 C231.1,179.1 227.7,175.1 227.2,174.0 C226.7,172.9 225.4,163.5 225.2,162.0 C225.0,160.5 223.9,151.8 224.2,151.0 Z"/>
<ellipse cx="100" cy="176" rx="18.5" ry="10"/>
</g>
<g filter="url(#b2b)">
<ellipse cx="99" cy="113" rx="19" ry="12.5" transform="rotate(-25 99 113)" fill="#081820"/>
<ellipse cx="174" cy="97" rx="6" ry="4" fill="#1e3e4a"/>
<ellipse cx="190" cy="99" rx="8" ry="5" fill="#1e3e4a"/>
<ellipse cx="207" cy="100" rx="9" ry="5" fill="#1e3e4a"/>
<ellipse cx="222" cy="103" rx="6" ry="4" fill="#2a4e5c"/>
<ellipse cx="198" cy="106" rx="14" ry="3" fill="#3a6272"/>
<ellipse cx="250" cy="150" rx="6" ry="4" fill="#2a4e5c"/>
</g>
<path d="M87,161 L76.3,162 C77,168 80,176 83,182 C86,186 89,188 92,189 L116,185.5 L121,182 L127.6,168.2 L134.5,156.8 L139.5,145 L130,142.6 L114,147.7 L101.4,149" fill="none" stroke="#e8a6c8" stroke-width="1.1"/>
<line x1="72.3" y1="32" x2="95" y2="73" stroke="#f2aa1c" stroke-width="3.2" stroke-linecap="round"/>
<path d="M101.5,84.4 L87,73 L100,66 Z" fill="#f2aa1c"/>
<line x1="69.3" y1="253.5" x2="93.4" y2="180" stroke="#d8407e" stroke-width="2.4"/>
<line x1="308.6" y1="252.5" x2="303" y2="226" stroke="#eea6b6" stroke-width="2"/>
<path d="M301.6,218.3 L297,229 L307,228 Z" fill="#eea6b6"/>
<g fill="#f2f8f8">
<path d="M209.3,53.8 L214.6,50 L219.9,53.8 Z"/>
<rect x="213.8" y="53" width="1.6" height="7.5"/>
<path d="M209.3,60 L219.9,60 L214.6,63.8 Z"/>
</g>
<g fill="#0a0a0a" transform="rotate(28 107 159)">
<path d="M101.5,157 L107,152.5 L112.5,157 Z"/>
<rect x="106" y="156" width="2" height="6"/>
<path d="M101.5,161.5 L112.5,161.5 L107,166 Z"/>
</g>
<text x="19" y="20.5" font-family="Liberation Sans" font-weight="bold" font-size="15" fill="#eaa934" textLength="282" lengthAdjust="spacingAndGlyphs">ABDOMINAL SUB-CUTANEOUS FAT MASS</text>
<text x="168" y="43.5" font-family="Liberation Sans" font-weight="bold" font-size="17.5" fill="#f2f6f6" textLength="85" lengthAdjust="spacingAndGlyphs">Diminution</text>
<text x="45.5" y="146" font-family="Liberation Sans" font-weight="bold" font-size="17" fill="#111" textLength="82" lengthAdjust="spacingAndGlyphs">Diminution</text>
<text x="24" y="272.6" font-family="Liberation Sans" font-weight="bold" font-size="14.5" fill="#da488c" textLength="138" lengthAdjust="spacingAndGlyphs">VISCERAL FAT MASS</text>
<text x="206" y="272.6" font-family="Liberation Sans" font-weight="bold" font-size="14.5" fill="#eaa8b8" textLength="130" lengthAdjust="spacingAndGlyphs">DORSAL FAT MASS</text>
<text x="313" y="287" font-family="Liberation Sans" font-size="8.5" fill="#b8c0c4" textLength="30" lengthAdjust="spacingAndGlyphs">©Nexira</text>

</g>
</svg>
</div>
</body></html>
